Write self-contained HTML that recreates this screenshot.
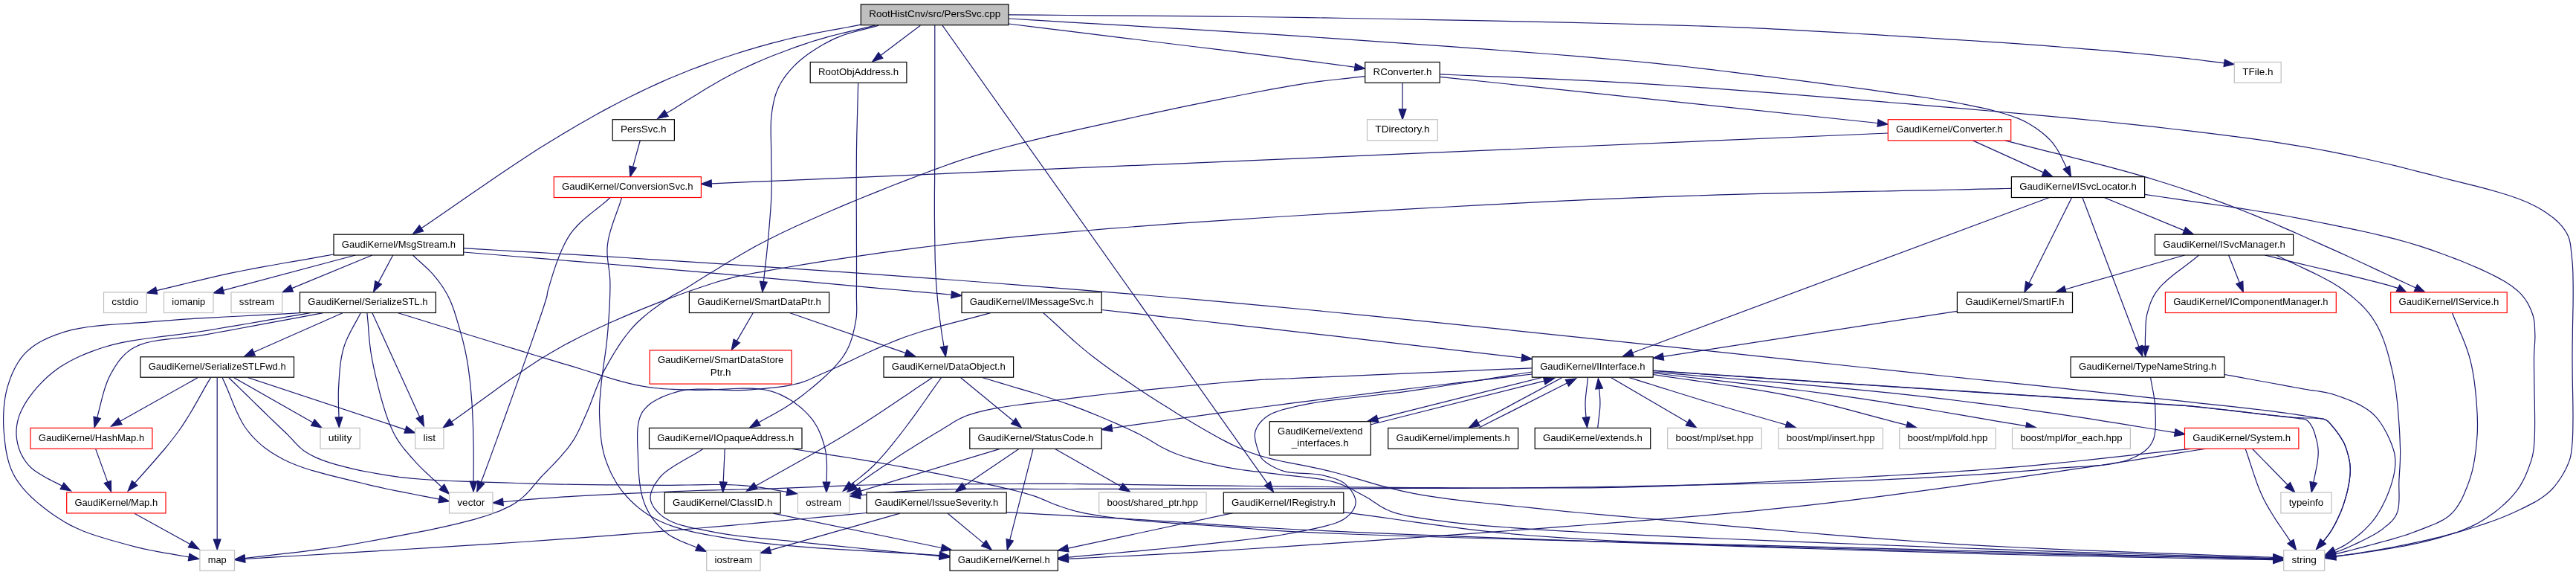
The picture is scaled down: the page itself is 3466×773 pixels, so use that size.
<!DOCTYPE html>
<html><head><meta charset="utf-8"><title>RootHistCnv/src/PersSvc.cpp include graph</title>
<style>html,body{margin:0;padding:0;background:#fff}svg{display:block}text{font-family:"Liberation Sans",sans-serif;font-size:13.45px;fill:#000;text-anchor:middle}.e path{fill:none;stroke:#191970;stroke-width:1.20}.e polygon{fill:#191970;stroke:#191970;stroke-width:1.20}rect{stroke-width:1.20}.t{filter:grayscale(1)}</style></head><body>
<svg width="3466" height="773" viewBox="0 0 3466 773">
<rect x="0" y="0" width="3466" height="773" fill="#fff" stroke="none"/>
<g class="e">
<path d="M1158.3 33.2 L1148.3 35.2 L1138.3 37.0 L1128.2 38.9 L1118.2 40.7 L1108.2 42.5 L1098.1 44.4 L1088.1 46.4 L1078.1 48.5 L1068.2 50.7 L1058.2 53.0 L1048.2 55.6 L1038.3 58.2 L1028.3 60.9 L1018.4 63.7 L1008.4 66.6 L998.5 69.6 L988.7 72.8 L978.8 76.0 L968.9 79.3 L959.1 82.8 L949.1 86.4 L939.3 90.1 L929.4 93.8 L919.6 97.7 L909.8 101.7 L900.0 105.8 L890.1 110.1 L880.2 114.6 L870.2 119.2 L860.0 124.1 L848.5 129.7 L837.0 135.5 L825.6 141.5 L814.0 147.6 L802.3 154.0 L790.5 160.7 L778.5 167.6 L766.3 174.7 L753.7 182.2 L740.9 190.0 L723.8 200.6 L706.2 212.0 L688.0 224.0 L669.4 236.6 L650.5 249.4 L631.4 262.6 L612.3 275.7 L593.1 288.9 L574.2 301.9 L567.0 306.7"/><polygon points="555.5,314.5 564.3,302.7 569.7,310.8"/>
<path d="M1177.1 34.2 L1168.6 36.4 L1160.0 38.4 L1151.5 40.4 L1143.0 42.4 L1134.5 44.4 L1125.9 46.5 L1117.3 48.7 L1108.7 51.1 L1100.0 53.6 L1091.3 56.3 L1081.5 59.6 L1071.8 62.9 L1061.9 66.5 L1052.0 70.2 L1042.0 74.0 L1032.0 78.0 L1022.1 82.2 L1012.1 86.6 L1002.1 91.2 L992.1 96.0 L981.4 101.5 L970.7 107.3 L960.0 113.4 L949.2 119.8 L938.5 126.4 L927.7 133.0 L917.0 139.7 L906.3 146.4 L896.7 152.3"/><polygon points="884.8,159.4 894.2,148.1 899.2,156.4"/>
<path d="M1182.1 34.2 L1176.3 35.9 L1170.4 37.4 L1164.5 38.9 L1158.6 40.4 L1152.7 41.9 L1146.9 43.5 L1141.1 45.1 L1135.4 47.0 L1129.8 49.1 L1124.3 51.4 L1118.9 53.9 L1113.6 56.6 L1108.2 59.5 L1103.0 62.5 L1097.8 65.7 L1092.8 68.9 L1087.9 72.3 L1083.3 75.7 L1078.8 79.2 L1074.7 82.8 L1071.4 85.8 L1068.3 88.9 L1065.2 92.1 L1062.3 95.3 L1059.6 98.6 L1057.0 101.9 L1054.6 105.3 L1052.3 108.7 L1050.2 112.2 L1048.3 115.8 L1046.7 119.2 L1045.3 122.6 L1044.0 126.0 L1042.9 129.5 L1041.9 133.1 L1041.1 136.7 L1040.3 140.4 L1039.6 144.2 L1039.0 148.1 L1038.4 152.1 L1037.8 157.4 L1037.4 162.9 L1037.2 168.6 L1037.2 174.5 L1037.2 180.4 L1037.3 186.5 L1037.5 192.5 L1037.6 198.5 L1037.7 204.3 L1037.7 210.0 L1037.7 215.0 L1037.8 220.0 L1037.9 224.9 L1038.0 229.8 L1038.1 234.6 L1038.1 239.5 L1038.2 244.4 L1038.2 249.3 L1038.1 254.4 L1038.0 259.6 L1037.8 265.5 L1037.5 271.6 L1037.1 277.7 L1036.7 283.9 L1036.2 290.2 L1035.7 296.5 L1035.2 302.9 L1034.6 309.3 L1034.1 315.7 L1033.5 322.2 L1032.8 329.0 L1032.1 336.0 L1031.4 343.0 L1030.6 350.0 L1029.8 357.1 L1029.0 364.2 L1028.2 371.3 L1027.4 378.4 L1027.4 378.7"/><polygon points="1025.8,392.5 1022.5,378.2 1032.2,379.2"/>
<path d="M1238.3 34.2 L1184.9 74.4"/><polygon points="1173.8,82.8 1182.0,70.5 1187.9,78.3"/>
<path d="M1257.8 33.7 L1257.8 50.5 L1257.8 67.6 L1257.8 84.9 L1257.8 102.2 L1257.8 119.5 L1257.8 136.5 L1257.8 153.2 L1257.8 169.4 L1257.8 185.1 L1257.8 200.0 L1257.8 211.1 L1257.7 221.8 L1257.6 232.2 L1257.6 242.4 L1257.5 252.3 L1257.4 262.0 L1257.4 271.6 L1257.4 281.1 L1257.4 290.6 L1257.5 300.0 L1257.6 308.4 L1257.7 316.8 L1257.8 325.0 L1257.9 333.2 L1258.1 341.3 L1258.2 349.3 L1258.5 357.1 L1258.8 364.9 L1259.2 372.5 L1259.6 380.0 L1260.1 386.4 L1260.6 392.8 L1261.2 399.0 L1261.8 405.2 L1262.4 411.3 L1263.1 417.3 L1263.8 423.2 L1264.5 429.0 L1265.3 434.6 L1266.0 440.0 L1266.6 444.3 L1267.2 448.4 L1267.8 452.5 L1268.5 456.4 L1269.1 460.3 L1269.8 464.1 L1270.1 465.8"/><polygon points="1272.4,479.5 1265.3,466.6 1274.9,465.0"/>
<path d="M1268.0 34.2 L1705.5 650.2"/><polygon points="1713.5,661.5 1701.5,653.0 1709.4,647.4"/>
<path d="M1357.0 32.0 L1396.4 36.9 L1437.6 41.9 L1479.9 47.1 L1522.4 52.3 L1564.3 57.5 L1605.1 62.5 L1643.7 67.2 L1679.6 71.7 L1712.0 75.7 L1740.0 79.3 L1752.3 80.9 L1763.4 82.3 L1773.7 83.7 L1783.3 85.0 L1792.4 86.2 L1801.1 87.4 L1809.7 88.5 L1818.4 89.7 L1822.9 90.3"/><polygon points="1836.7,92.2 1822.3,95.1 1823.6,85.5"/>
<path d="M1357.0 25.0 L1397.2 27.4 L1437.3 29.8 L1477.3 32.1 L1517.4 34.4 L1557.4 36.8 L1597.6 39.1 L1637.9 41.6 L1678.3 44.1 L1719.1 46.7 L1760.1 49.4 L1804.3 52.4 L1850.2 55.6 L1897.3 58.8 L1944.8 62.2 L1992.1 65.6 L2038.4 69.1 L2083.0 72.5 L2125.3 75.9 L2164.5 79.3 L2200.0 82.5 L2219.8 84.4 L2238.2 86.3 L2255.4 88.1 L2271.9 90.0 L2287.6 91.8 L2303.0 93.6 L2318.2 95.5 L2333.5 97.4 L2349.1 99.3 L2365.3 101.3 L2382.0 103.4 L2399.0 105.5 L2416.2 107.6 L2433.4 109.8 L2450.5 112.1 L2467.4 114.3 L2484.0 116.5 L2500.2 118.6 L2515.7 120.7 L2530.5 122.8 L2541.5 124.3 L2552.3 125.8 L2562.8 127.3 L2573.0 128.7 L2582.9 130.1 L2592.7 131.5 L2602.2 133.0 L2611.5 134.5 L2620.7 136.0 L2629.7 137.7 L2636.9 139.0 L2644.1 140.4 L2651.3 141.8 L2658.2 143.3 L2665.1 144.7 L2671.7 146.2 L2678.1 147.7 L2684.3 149.3 L2690.2 150.9 L2695.8 152.5 L2699.6 153.7 L2703.2 154.9 L2706.7 156.0 L2710.0 157.2 L2713.2 158.4 L2716.4 159.6 L2719.5 161.0 L2722.6 162.4 L2725.7 164.0 L2728.8 165.8 L2732.3 167.8 L2735.8 170.0 L2739.3 172.3 L2742.7 174.8 L2746.2 177.3 L2749.5 180.0 L2752.8 182.8 L2755.9 185.8 L2759.0 188.9 L2761.9 192.2 L2764.8 196.1 L2767.6 200.2 L2770.2 204.6 L2772.7 209.2 L2775.0 213.9 L2777.3 218.7 L2779.6 223.6 L2780.4 225.4"/><polygon points="2786.6,237.8 2776.1,227.5 2784.8,223.2"/>
<path d="M1357.0 19.8 L1397.0 20.2 L1436.6 20.5 L1476.0 20.8 L1515.4 21.1 L1554.9 21.4 L1594.6 21.7 L1634.8 22.1 L1675.7 22.5 L1717.4 23.0 L1760.1 23.7 L1812.5 24.5 L1868.7 25.5 L1927.4 26.6 L1987.3 27.7 L2047.1 28.9 L2105.6 30.2 L2161.4 31.5 L2213.3 32.8 L2259.9 34.1 L2300.0 35.4 L2317.7 36.0 L2333.8 36.6 L2348.6 37.2 L2362.5 37.8 L2375.6 38.4 L2388.2 39.1 L2400.7 39.7 L2413.3 40.4 L2426.2 41.1 L2439.7 41.8 L2453.7 42.6 L2467.7 43.3 L2481.7 44.2 L2495.6 45.0 L2509.6 45.8 L2523.6 46.7 L2537.6 47.6 L2551.5 48.4 L2565.5 49.3 L2579.5 50.2 L2593.5 51.0 L2607.4 51.9 L2621.4 52.8 L2635.4 53.6 L2649.4 54.5 L2663.3 55.4 L2677.3 56.3 L2691.3 57.2 L2705.3 58.1 L2719.2 59.1 L2733.4 60.2 L2747.8 61.2 L2762.3 62.3 L2776.8 63.5 L2791.3 64.6 L2805.6 65.8 L2819.7 66.9 L2833.3 68.1 L2846.4 69.2 L2859.0 70.3 L2868.3 71.2 L2877.3 72.0 L2886.1 72.8 L2894.6 73.6 L2903.0 74.5 L2911.1 75.3 L2919.2 76.1 L2927.1 77.0 L2935.0 77.8 L2942.8 78.7 L2949.5 79.5 L2956.1 80.2 L2962.6 81.0 L2968.9 81.8 L2975.2 82.6 L2981.5 83.4 L2987.7 84.2 L2992.7 84.8"/><polygon points="3006.5,86.5 2992.1,89.6 2993.3,80.0"/>
<path d="M1154.7 111.5 L1154.4 121.2 L1154.2 130.7 L1153.9 140.1 L1153.7 149.5 L1153.4 158.9 L1153.2 168.5 L1152.9 178.3 L1152.7 188.4 L1152.5 199.0 L1152.4 210.0 L1152.3 226.4 L1152.2 244.6 L1152.2 264.0 L1152.3 284.1 L1152.4 304.5 L1152.4 324.4 L1152.5 343.5 L1152.5 361.1 L1152.5 376.8 L1152.4 390.0 L1152.4 395.4 L1152.4 400.3 L1152.5 404.8 L1152.6 409.0 L1152.7 412.9 L1152.7 416.7 L1152.6 420.4 L1152.4 424.2 L1152.0 428.1 L1151.3 432.2 L1150.5 436.7 L1149.6 441.2 L1148.5 445.7 L1147.4 450.3 L1146.1 454.8 L1144.5 459.4 L1142.8 463.9 L1140.7 468.4 L1138.4 472.9 L1135.7 477.4 L1131.4 483.5 L1126.3 489.6 L1120.6 495.8 L1114.4 502.1 L1107.7 508.2 L1100.9 514.3 L1093.8 520.2 L1086.8 525.9 L1079.8 531.4 L1073.0 536.5 L1066.8 541.0 L1060.5 545.2 L1054.2 549.2 L1047.7 553.0 L1041.2 556.7 L1034.7 560.3 L1028.2 563.8 L1021.7 567.4 L1020.8 567.9"/><polygon points="1008.7,574.8 1018.4,563.7 1023.2,572.1"/>
<path d="M1887.1 111.3 L1887.1 146.8"/><polygon points="1887.1,160.7 1882.2,146.8 1892.0,146.8"/>
<path d="M1937.2 103.3 L2526.5 165.5"/><polygon points="2540.3,167.0 2526.0,170.3 2527.0,160.7"/>
<path d="M1937.2 99.8 L1963.4 101.0 L1989.3 102.1 L2015.1 103.1 L2040.9 104.2 L2066.7 105.3 L2092.7 106.4 L2119.0 107.6 L2145.5 108.9 L2172.5 110.3 L2200.0 111.9 L2231.4 113.9 L2263.4 116.0 L2295.8 118.2 L2328.6 120.6 L2361.8 123.1 L2395.2 125.7 L2428.8 128.3 L2462.6 131.1 L2496.5 133.9 L2530.5 136.7 L2567.1 139.7 L2604.7 142.9 L2643.0 146.1 L2681.6 149.5 L2720.2 152.9 L2758.4 156.4 L2795.9 159.9 L2832.2 163.5 L2867.0 167.1 L2900.0 170.7 L2924.0 173.5 L2947.3 176.2 L2970.0 178.9 L2992.0 181.6 L3013.4 184.4 L3034.4 187.2 L3055.0 190.2 L3075.3 193.3 L3095.3 196.6 L3115.1 200.0 L3131.9 203.1 L3148.3 206.3 L3164.3 209.6 L3180.1 213.0 L3195.7 216.5 L3211.1 220.0 L3226.3 223.7 L3241.4 227.5 L3256.5 231.3 L3271.7 235.2 L3286.3 239.0 L3301.5 242.8 L3316.9 246.6 L3332.2 250.4 L3347.3 254.4 L3361.9 258.5 L3375.8 262.8 L3388.7 267.3 L3400.5 272.0 L3410.8 277.0 L3416.4 280.1 L3421.8 283.3 L3426.8 286.6 L3431.5 289.9 L3435.9 293.3 L3439.9 296.8 L3443.6 300.4 L3447.0 304.1 L3449.9 307.9 L3452.5 311.7 L3454.3 314.9 L3455.7 317.9 L3456.8 321.0 L3457.6 324.1 L3458.3 327.3 L3458.8 330.6 L3459.2 334.2 L3459.6 338.0 L3460.0 342.1 L3460.5 346.5 L3461.4 356.4 L3461.9 367.7 L3462.1 380.4 L3462.2 394.0 L3462.1 408.2 L3461.8 422.9 L3461.5 437.7 L3461.3 452.4 L3461.1 466.5 L3461.0 480.0 L3461.1 492.7 L3461.2 505.9 L3461.4 519.4 L3461.7 532.9 L3461.9 546.2 L3462.0 558.9 L3461.9 571.0 L3461.7 582.0 L3461.3 591.8 L3460.6 600.0 L3460.3 603.2 L3459.9 606.0 L3459.6 608.5 L3459.2 610.9 L3458.8 613.1 L3458.3 615.2 L3457.7 617.3 L3457.0 619.4 L3456.2 621.6 L3455.2 624.1 L3453.7 627.6 L3451.9 631.2 L3449.9 634.9 L3447.7 638.7 L3445.4 642.5 L3442.8 646.3 L3440.1 650.0 L3437.3 653.6 L3434.3 657.0 L3431.1 660.2 L3427.5 663.5 L3423.6 666.5 L3419.5 669.5 L3415.2 672.2 L3410.7 674.9 L3406.0 677.4 L3401.2 679.9 L3396.2 682.4 L3391.2 684.8 L3386.0 687.3 L3379.4 690.3 L3372.4 693.3 L3365.2 696.2 L3357.8 699.0 L3350.2 701.7 L3342.5 704.4 L3334.6 707.0 L3326.6 709.5 L3318.7 712.0 L3310.7 714.4 L3302.1 716.9 L3293.3 719.2 L3284.4 721.5 L3275.4 723.7 L3266.2 725.8 L3257.1 727.9 L3247.9 729.8 L3238.7 731.8 L3229.5 733.6 L3220.4 735.5 L3211.3 737.2 L3202.1 738.9 L3193.0 740.4 L3183.8 741.9 L3174.6 743.4 L3165.4 744.8 L3156.2 746.2 L3147.0 747.6 L3142.3 748.3"/><polygon points="3128.6,750.5 3141.6,743.5 3143.1,753.1"/>
<path d="M861.4 188.5 L851.5 224.3"/><polygon points="847.8,237.7 846.8,223.0 856.2,225.6"/>
<path d="M2540.3 179.0 L957.3 246.8"/><polygon points="943.4,247.4 957.1,241.9 957.5,251.7"/>
<path d="M2654.3 188.9 L2749.4 231.9"/><polygon points="2762.1,237.7 2747.4,236.4 2751.4,227.5"/>
<path d="M2697.7 188.9 L2717.1 193.8 L2736.7 198.8 L2756.5 203.8 L2776.4 208.7 L2796.2 213.7 L2815.7 218.6 L2834.9 223.6 L2853.6 228.6 L2871.7 233.6 L2889.0 238.7 L2902.4 242.8 L2915.3 246.8 L2927.8 250.8 L2939.9 254.8 L2951.8 258.9 L2963.6 263.0 L2975.3 267.2 L2987.0 271.4 L2998.8 275.9 L3010.8 280.4 L3023.0 285.2 L3035.2 290.1 L3047.3 295.2 L3059.4 300.3 L3071.5 305.6 L3083.7 310.9 L3095.8 316.2 L3108.0 321.7 L3120.2 327.1 L3132.5 332.6 L3145.4 338.4 L3158.4 344.3 L3171.4 350.2 L3184.4 356.3 L3197.5 362.4 L3210.6 368.5 L3223.7 374.6 L3236.8 380.7 L3249.9 386.8 L3250.3 387.0"/><polygon points="3263.0,392.9 3248.3,391.4 3252.4,382.6"/>
<path d="M820.9 265.8 L815.4 270.7 L809.7 275.4 L803.9 280.0 L798.1 284.6 L792.3 289.2 L786.7 293.9 L781.3 298.8 L776.1 304.0 L771.3 309.4 L767.0 315.2 L762.7 322.1 L758.7 329.8 L754.9 338.1 L751.4 346.7 L748.2 355.4 L745.3 363.9 L742.8 371.9 L740.6 379.1 L738.8 385.2 L737.4 390.0 L737.0 391.3 L736.8 392.4 L736.6 393.2 L736.5 394.0 L736.4 394.7 L736.3 395.5 L736.2 396.3 L736.0 397.3 L735.8 398.5 L735.4 400.0 L731.3 413.2 L724.0 434.7 L714.4 462.4 L703.2 494.1 L691.2 527.9 L679.1 561.5 L667.7 592.9 L657.8 620.1 L650.0 641.0 L647.2 648.2"/><polygon points="641.7,661.0 642.8,646.3 651.7,650.2"/>
<path d="M836.5 265.8 L834.5 272.2 L832.3 278.6 L830.0 285.0 L827.7 291.4 L825.4 297.8 L823.3 304.2 L821.3 310.6 L819.6 316.8 L818.3 323.0 L817.4 329.1 L817.0 334.4 L817.0 339.5 L817.2 344.5 L817.7 349.4 L818.3 354.3 L819.0 359.3 L819.7 364.3 L820.3 369.4 L820.7 374.6 L820.9 380.0 L820.9 386.5 L820.8 393.2 L820.6 400.1 L820.3 407.1 L820.0 414.1 L819.5 421.2 L819.1 428.4 L818.5 435.5 L818.0 442.6 L817.4 449.6 L816.7 456.6 L815.9 463.8 L815.0 471.0 L814.0 478.3 L812.9 485.5 L811.9 492.6 L811.0 499.6 L810.1 506.4 L809.3 512.9 L808.7 519.1 L808.3 523.6 L807.9 527.9 L807.6 532.0 L807.2 536.0 L806.9 539.8 L806.7 543.7 L806.6 547.6 L806.5 551.6 L806.5 555.7 L806.7 560.0 L806.9 565.2 L807.2 570.7 L807.5 576.3 L808.0 582.0 L808.5 587.7 L809.2 593.4 L810.1 599.1 L811.2 604.7 L812.5 610.2 L814.1 615.6 L815.8 620.7 L817.8 625.8 L819.9 630.9 L822.2 635.9 L824.7 640.8 L827.4 645.7 L830.2 650.4 L833.3 655.0 L836.5 659.4 L840.0 663.7 L843.8 668.0 L847.8 672.3 L852.0 676.3 L856.4 680.3 L861.0 684.1 L865.9 687.7 L871.0 691.2 L876.4 694.5 L882.1 697.7 L888.1 700.7 L896.9 704.5 L906.2 707.9 L916.0 710.9 L926.3 713.6 L937.2 716.1 L948.6 718.4 L960.4 720.5 L972.9 722.6 L985.8 724.6 L999.3 726.7 L1022.0 729.7 L1046.8 732.4 L1073.5 734.7 L1101.5 736.8 L1130.6 738.6 L1160.4 740.4 L1190.3 742.1 L1220.2 743.8 L1249.6 745.6 L1264.1 746.6"/><polygon points="1278.0,747.6 1263.8,751.5 1264.5,741.8"/>
<path d="M2706.4 253.3 L2699.0 253.5 L2692.1 253.6 L2685.4 253.8 L2678.7 253.9 L2672.0 254.1 L2664.9 254.2 L2657.3 254.4 L2649.1 254.6 L2640.1 254.8 L2630.0 255.0 L2602.7 255.6 L2570.2 256.2 L2533.3 257.0 L2493.0 257.7 L2450.2 258.6 L2405.5 259.6 L2360.1 260.7 L2314.6 261.9 L2269.9 263.3 L2227.0 264.8 L2181.2 266.6 L2134.1 268.7 L2086.1 270.9 L2037.7 273.4 L1989.1 275.9 L1941.0 278.5 L1893.5 281.1 L1847.3 283.8 L1802.6 286.4 L1760.0 289.0 L1727.2 291.0 L1695.1 293.0 L1663.7 295.1 L1633.0 297.1 L1603.0 299.1 L1573.5 301.2 L1544.6 303.3 L1516.3 305.5 L1488.4 307.7 L1461.0 310.0 L1438.6 311.9 L1416.9 313.8 L1395.7 315.8 L1374.9 317.7 L1354.4 319.7 L1334.1 321.7 L1313.9 323.9 L1293.6 326.1 L1273.2 328.5 L1252.6 331.0 L1231.3 333.7 L1209.3 336.6 L1187.0 339.7 L1164.5 342.8 L1142.3 346.1 L1120.5 349.3 L1099.5 352.6 L1079.6 355.8 L1061.0 359.0 L1044.0 362.0 L1034.4 363.7 L1025.6 365.3 L1017.5 366.7 L1009.9 368.0 L1002.5 369.5 L995.2 371.0 L987.6 372.7 L979.7 374.8 L971.1 377.2 L961.7 380.0 L944.9 385.5 L926.3 391.8 L906.5 399.0 L885.7 406.9 L864.3 415.4 L842.6 424.4 L821.0 433.8 L799.8 443.5 L779.3 453.5 L760.0 463.5 L742.5 473.4 L725.4 483.8 L708.8 494.7 L692.4 505.9 L676.3 517.3 L660.3 528.9 L644.3 540.6 L628.4 552.2 L612.3 563.7 L607.4 567.1"/><polygon points="596.0,575.0 604.7,563.1 610.2,571.1"/>
<path d="M2756.9 265.8 L2196.5 474.2"/><polygon points="2183.5,479.0 2194.8,469.6 2198.2,478.7"/>
<path d="M2787.5 265.8 L2730.1 380.4"/><polygon points="2723.8,392.9 2725.7,378.3 2734.4,382.6"/>
<path d="M2802.0 265.8 L2877.9 466.0"/><polygon points="2882.8,479.0 2873.3,467.7 2882.4,464.3"/>
<path d="M2831.7 265.8 L2938.8 309.9"/><polygon points="2951.7,315.2 2936.9,314.4 2940.6,305.4"/>
<path d="M2885.6 261.3 L2906.9 264.5 L2928.4 267.7 L2949.9 270.8 L2971.5 273.9 L2993.1 277.0 L3014.5 280.2 L3035.7 283.5 L3056.8 286.9 L3077.4 290.5 L3097.7 294.3 L3116.1 298.0 L3134.4 301.6 L3152.6 305.3 L3170.6 309.1 L3188.4 313.0 L3205.9 317.1 L3223.1 321.4 L3239.8 326.0 L3256.0 330.9 L3271.7 336.1 L3284.7 340.8 L3298.0 345.7 L3311.3 350.8 L3324.4 356.2 L3337.0 361.6 L3349.0 367.2 L3360.2 372.9 L3370.3 378.6 L3379.1 384.3 L3386.4 390.0 L3389.8 393.1 L3392.8 396.2 L3395.4 399.4 L3397.8 402.5 L3399.9 405.7 L3401.7 408.9 L3403.3 412.1 L3404.8 415.3 L3406.1 418.5 L3407.3 421.7 L3408.2 424.5 L3408.9 427.2 L3409.5 430.0 L3409.9 432.8 L3410.2 435.5 L3410.4 438.3 L3410.5 441.1 L3410.6 443.9 L3410.7 446.7 L3410.8 449.6 L3410.9 452.5 L3410.8 455.2 L3410.7 458.0 L3410.6 460.7 L3410.4 463.4 L3410.2 466.3 L3410.0 469.3 L3409.8 472.6 L3409.6 476.1 L3409.5 480.0 L3409.5 489.2 L3409.6 500.4 L3409.8 513.1 L3410.0 526.7 L3410.3 540.8 L3410.5 554.8 L3410.6 568.3 L3410.5 580.6 L3410.1 591.4 L3409.5 600.0 L3409.1 603.2 L3408.7 606.0 L3408.3 608.5 L3407.9 610.8 L3407.4 613.0 L3406.9 615.1 L3406.3 617.2 L3405.7 619.3 L3404.9 621.6 L3404.0 624.1 L3402.8 627.5 L3401.5 631.0 L3400.1 634.6 L3398.5 638.3 L3396.9 642.0 L3395.0 645.7 L3393.0 649.4 L3390.9 653.1 L3388.5 656.7 L3386.0 660.2 L3382.5 664.4 L3378.8 668.6 L3374.7 672.8 L3370.3 677.0 L3365.8 681.1 L3361.0 685.1 L3356.1 688.9 L3351.0 692.6 L3346.0 696.1 L3340.8 699.3 L3335.4 702.5 L3329.9 705.4 L3324.2 708.1 L3318.4 710.6 L3312.4 713.0 L3306.4 715.2 L3300.1 717.3 L3293.8 719.4 L3287.3 721.4 L3280.6 723.4 L3272.3 725.7 L3263.6 727.9 L3254.5 730.0 L3245.1 731.9 L3235.7 733.8 L3226.2 735.5 L3216.8 737.1 L3207.6 738.7 L3198.8 740.1 L3190.3 741.5 L3183.7 742.5 L3177.2 743.5 L3171.0 744.3 L3164.8 745.1 L3158.7 745.8 L3152.7 746.5 L3146.8 747.2 L3142.4 747.7"/><polygon points="3128.6,749.3 3141.8,742.8 3143.0,752.5"/>
<path d="M449.0 342.0 L435.4 344.4 L421.6 346.9 L407.8 349.3 L394.1 351.6 L380.3 354.0 L366.6 356.5 L353.0 358.9 L339.5 361.4 L326.2 364.0 L313.0 366.7 L301.1 369.2 L289.2 371.9 L277.6 374.6 L266.0 377.3 L254.5 380.0 L243.1 382.8 L231.6 385.6 L220.2 388.4 L210.7 390.7"/><polygon points="197.2,393.9 209.6,386.0 211.8,395.4"/>
<path d="M478.3 343.0 L300.4 390.3"/><polygon points="287.0,393.9 299.1,385.6 301.6,395.0"/>
<path d="M500.9 343.0 L392.7 387.6"/><polygon points="379.8,392.9 390.8,383.1 394.5,392.1"/>
<path d="M528.7 343.0 L509.1 379.9"/><polygon points="502.6,392.2 504.8,377.6 513.4,382.2"/>
<path d="M555.5 343.0 L558.4 345.8 L561.4 348.6 L564.4 351.3 L567.4 354.0 L570.4 356.7 L573.4 359.5 L576.3 362.3 L579.1 365.1 L581.8 367.9 L584.3 370.9 L586.6 373.6 L588.8 376.4 L590.9 379.2 L593.0 382.0 L595.0 384.8 L596.9 387.7 L598.7 390.7 L600.5 393.7 L602.2 396.8 L603.8 400.0 L605.5 403.6 L607.1 407.3 L608.6 411.0 L610.0 414.9 L611.4 418.8 L612.6 422.8 L613.9 426.8 L615.1 430.9 L616.3 434.9 L617.5 439.0 L618.7 443.2 L619.9 447.5 L621.1 451.7 L622.3 456.1 L623.4 460.4 L624.4 464.8 L625.5 469.2 L626.4 473.7 L627.3 478.2 L628.2 482.8 L629.1 487.9 L629.9 493.1 L630.6 498.4 L631.3 503.7 L632.0 509.1 L632.6 514.5 L633.1 520.0 L633.6 525.4 L634.1 530.9 L634.5 536.4 L635.0 542.1 L635.3 547.9 L635.7 553.6 L635.9 559.4 L636.2 565.3 L636.4 571.1 L636.6 577.0 L636.7 582.9 L636.8 588.9 L637.0 594.9 L637.1 601.3 L637.2 607.8 L637.2 614.4 L637.2 621.0 L637.2 627.7 L637.1 634.4 L637.1 641.0 L637.0 647.1"/><polygon points="637.0,661.0 632.2,647.1 641.9,647.1"/>
<path d="M623.7 339.0 L648.2 341.0 L672.3 343.0 L696.3 345.0 L720.3 346.9 L744.4 348.9 L768.6 350.9 L793.2 352.9 L818.2 355.0 L843.8 357.2 L870.0 359.4 L902.9 362.3 L938.4 365.4 L975.5 368.7 L1013.5 372.1 L1051.5 375.6 L1088.6 378.9 L1124.0 382.1 L1156.7 385.1 L1186.0 387.8 L1211.0 390.0 L1221.6 390.9 L1231.2 391.8 L1240.0 392.6 L1248.3 393.3 L1256.0 394.0 L1263.5 394.7 L1270.9 395.3 L1278.3 396.0 L1280.2 396.2"/><polygon points="1294.0,397.4 1279.7,401.0 1280.6,391.3"/>
<path d="M623.7 333.7 L648.0 335.1 L671.7 336.5 L695.2 337.9 L718.6 339.2 L742.1 340.5 L766.0 341.9 L790.5 343.4 L815.9 344.9 L842.3 346.5 L870.0 348.3 L910.3 350.9 L953.1 353.7 L998.0 356.6 L1044.5 359.7 L1092.1 362.9 L1140.3 366.2 L1188.7 369.6 L1236.7 373.1 L1284.0 376.5 L1330.0 380.0 L1372.9 383.3 L1414.6 386.6 L1455.4 389.8 L1495.9 393.1 L1536.6 396.5 L1577.9 400.0 L1620.5 403.7 L1664.7 407.7 L1711.0 411.9 L1760.0 416.5 L1838.7 424.1 L1928.7 433.2 L2026.5 443.2 L2128.4 453.8 L2231.1 464.6 L2330.8 475.2 L2424.1 485.1 L2507.5 494.0 L2577.3 501.4 L2630.1 507.0 L2643.2 508.3 L2654.3 509.5 L2664.0 510.5 L2672.6 511.3 L2680.5 512.2 L2688.1 512.9 L2695.9 513.7 L2704.2 514.6 L2713.5 515.6 L2724.1 516.7 L2743.1 518.7 L2764.3 520.9 L2787.2 523.4 L2811.2 525.9 L2835.9 528.6 L2860.7 531.2 L2885.0 533.8 L2908.3 536.3 L2930.2 538.7 L2950.0 540.9 L2962.9 542.3 L2975.4 543.6 L2987.5 544.9 L2999.2 546.2 L3010.5 547.4 L3021.4 548.6 L3032.0 549.8 L3042.1 551.0 L3051.9 552.2 L3061.3 553.4 L3067.9 554.3 L3074.3 555.2 L3080.7 556.0 L3086.9 556.9 L3092.9 557.8 L3098.5 558.7 L3103.8 559.5 L3108.7 560.3 L3113.1 561.1 L3117.0 561.7 L3118.6 562.0 L3120.1 562.3 L3121.5 562.4 L3122.8 562.6 L3124.0 562.8 L3125.2 563.0 L3126.3 563.2 L3127.4 563.6 L3128.4 564.0 L3129.5 564.5 L3130.6 565.2 L3131.7 566.0 L3132.7 566.8 L3133.7 567.8 L3134.6 568.8 L3135.5 569.8 L3136.5 570.9 L3137.4 572.0 L3138.3 573.1 L3139.3 574.3 L3140.4 575.6 L3141.6 577.1 L3142.8 578.6 L3144.0 580.2 L3145.1 581.8 L3146.3 583.4 L3147.4 585.0 L3148.5 586.6 L3149.5 588.1 L3150.4 589.6 L3151.0 590.7 L3151.7 591.7 L3152.2 592.6 L3152.8 593.6 L3153.3 594.5 L3153.8 595.5 L3154.3 596.5 L3154.7 597.5 L3155.2 598.7 L3155.7 600.0 L3156.5 602.3 L3157.4 604.9 L3158.2 607.6 L3159.1 610.6 L3159.9 613.6 L3160.6 616.8 L3161.3 620.1 L3161.8 623.4 L3162.1 626.8 L3162.3 630.1 L3162.3 634.3 L3162.0 638.6 L3161.5 643.1 L3160.9 647.7 L3160.0 652.4 L3159.1 657.1 L3158.0 661.8 L3156.8 666.4 L3155.5 670.9 L3154.2 675.3 L3152.8 679.4 L3151.3 683.6 L3149.7 687.7 L3147.9 691.8 L3146.1 695.8 L3144.2 699.8 L3142.3 703.6 L3140.2 707.4 L3138.2 711.0 L3136.1 714.4 L3134.3 717.1 L3132.5 719.7 L3130.5 722.2 L3128.6 724.6 L3126.6 727.0 L3125.7 728.0"/><polygon points="3116.6,738.5 3122.0,724.8 3129.3,731.2"/>
<path d="M2939.5 343.0 L2778.9 389.0"/><polygon points="2765.6,392.9 2777.6,384.4 2780.3,393.7"/>
<path d="M2958.6 343.0 L2952.9 347.7 L2946.8 352.5 L2940.6 357.2 L2934.3 361.9 L2928.2 366.6 L2922.2 371.3 L2916.6 376.0 L2911.4 380.7 L2906.8 385.3 L2903.0 390.0 L2900.7 393.2 L2898.7 396.4 L2896.9 399.6 L2895.4 402.8 L2894.0 406.0 L2892.8 409.1 L2891.7 412.3 L2890.8 415.5 L2889.9 418.6 L2889.0 421.7 L2888.4 424.5 L2887.9 427.3 L2887.5 430.1 L2887.3 432.9 L2887.1 435.6 L2887.0 438.4 L2886.9 441.2 L2886.8 444.0 L2886.7 446.7 L2886.6 449.6 L2886.5 452.5 L2886.4 455.4 L2886.4 458.4 L2886.4 461.3 L2886.4 464.3 L2886.5 465.2"/><polygon points="2886.6,479.1 2881.6,465.3 2891.3,465.2"/>
<path d="M2998.6 343.0 L3013.3 380.0"/><polygon points="3018.4,392.9 3008.8,381.8 3017.8,378.2"/>
<path d="M3063.0 343.0 L3072.2 347.7 L3081.7 352.3 L3091.4 356.8 L3101.1 361.4 L3110.7 365.9 L3120.1 370.5 L3129.2 375.2 L3137.9 380.0 L3146.0 384.9 L3153.4 390.0 L3158.6 393.9 L3163.6 397.8 L3168.2 401.6 L3172.7 405.6 L3176.9 409.5 L3180.9 413.7 L3184.7 417.9 L3188.4 422.4 L3191.8 427.2 L3195.1 432.2 L3198.6 438.1 L3201.7 444.3 L3204.6 450.8 L3207.3 457.6 L3209.7 464.6 L3211.9 471.7 L3214.0 479.1 L3215.9 486.5 L3217.7 494.1 L3219.5 501.7 L3221.3 511.0 L3223.0 520.8 L3224.4 531.0 L3225.6 541.5 L3226.6 552.0 L3227.4 562.5 L3228.1 572.7 L3228.7 582.4 L3229.1 591.6 L3229.4 600.0 L3229.6 605.2 L3229.6 610.1 L3229.5 614.8 L3229.4 619.3 L3229.2 623.7 L3229.0 627.9 L3228.7 632.2 L3228.4 636.4 L3228.2 640.7 L3227.9 645.2 L3227.8 649.8 L3227.8 654.5 L3227.9 659.4 L3228.0 664.2 L3228.0 669.0 L3227.9 673.7 L3227.6 678.3 L3227.1 682.6 L3226.2 686.6 L3224.9 690.3 L3223.6 693.0 L3222.2 695.4 L3220.6 697.7 L3218.8 699.8 L3216.9 701.8 L3214.8 703.8 L3212.6 705.7 L3210.3 707.5 L3207.9 709.4 L3205.4 711.4 L3201.7 714.0 L3197.6 716.7 L3193.2 719.3 L3188.5 721.8 L3183.7 724.3 L3178.8 726.8 L3173.9 729.1 L3169.1 731.4 L3164.5 733.5 L3160.2 735.5 L3156.9 736.9 L3153.6 738.3 L3150.4 739.6 L3147.2 740.8 L3144.1 741.9 L3141.7 742.8"/><polygon points="3128.6,747.5 3140.0,738.2 3143.3,747.3"/>
<path d="M3047.3 343.0 L3067.1 347.9 L3088.8 353.1 L3111.5 358.5 L3134.5 363.9 L3157.0 369.2 L3178.1 374.3 L3197.1 379.1 L3213.2 383.4 L3225.6 387.1 L3226.5 387.4"/><polygon points="3238.6,393.9 3224.2,391.7 3228.8,383.1"/>
<path d="M403.5 420.7 L383.8 421.8 L363.8 422.9 L343.6 423.9 L323.4 425.0 L303.2 426.0 L283.3 427.1 L263.8 428.2 L244.7 429.4 L226.3 430.8 L208.7 432.2 L195.1 433.3 L181.6 434.2 L168.3 435.1 L155.3 436.0 L142.6 436.9 L130.3 438.1 L118.5 439.5 L107.3 441.3 L96.8 443.4 L87.0 446.1 L80.5 448.2 L74.4 450.4 L68.5 452.7 L62.9 455.1 L57.5 457.7 L52.4 460.5 L47.6 463.5 L43.1 466.7 L38.8 470.2 L34.8 473.9 L31.3 477.6 L28.1 481.6 L25.2 485.8 L22.5 490.2 L20.0 494.7 L17.7 499.4 L15.6 504.2 L13.7 509.1 L12.0 514.1 L10.4 519.1 L8.9 524.7 L7.6 530.5 L6.6 536.5 L5.8 542.6 L5.2 548.8 L4.8 555.1 L4.6 561.4 L4.6 567.6 L4.8 573.9 L5.2 580.0 L5.8 586.3 L6.4 592.7 L7.2 599.1 L8.1 605.6 L9.4 612.0 L10.9 618.3 L12.7 624.6 L15.0 630.8 L17.7 636.8 L20.9 642.6 L25.3 649.2 L30.5 655.8 L36.3 662.3 L42.7 668.7 L49.5 674.9 L56.7 680.8 L64.1 686.5 L71.7 691.9 L79.4 697.0 L87.0 701.7 L94.8 706.1 L103.0 710.0 L111.4 713.7 L120.1 717.0 L128.9 720.0 L137.8 722.8 L146.8 725.5 L155.9 728.0 L164.9 730.5 L173.9 733.0 L183.1 735.4 L192.3 737.6 L201.7 739.5 L211.1 741.3 L220.5 743.1 L230.0 744.7 L239.5 746.3 L249.0 748.0 L254.2 748.9"/><polygon points="267.8,751.4 253.3,753.7 255.0,744.1"/>
<path d="M417.4 420.7 L403.5 423.1 L389.6 425.4 L375.7 427.8 L361.7 430.2 L347.8 432.6 L333.9 435.0 L320.0 437.3 L306.1 439.7 L292.2 442.0 L278.3 444.3 L264.1 446.5 L249.6 448.5 L234.9 450.3 L220.1 452.1 L205.4 454.0 L191.0 456.0 L177.0 458.2 L163.6 460.7 L150.9 463.6 L139.1 467.0 L130.9 469.7 L123.0 472.6 L115.3 475.6 L108.0 478.7 L101.0 482.0 L94.2 485.5 L87.7 489.2 L81.4 493.1 L75.4 497.3 L69.6 501.7 L64.3 506.2 L59.2 511.0 L54.2 516.1 L49.4 521.4 L44.8 526.8 L40.6 532.4 L36.7 537.9 L33.3 543.4 L30.3 548.8 L27.8 553.9 L26.3 557.6 L25.0 561.4 L24.0 565.1 L23.2 568.8 L22.6 572.4 L22.2 576.1 L22.0 579.7 L22.0 583.3 L22.2 586.8 L22.6 590.4 L23.2 594.0 L24.0 597.6 L25.0 601.2 L26.2 604.8 L27.6 608.4 L29.3 611.9 L31.2 615.4 L33.3 618.7 L35.6 622.0 L38.3 625.2 L42.3 629.2 L47.1 633.0 L52.4 636.6 L58.2 640.0 L64.3 643.4 L70.7 646.7 L77.1 649.9 L83.5 653.2"/><polygon points="95.7,660.0 81.1,657.5 85.9,649.0"/>
<path d="M434.8 420.7 L419.0 423.6 L402.9 426.6 L386.7 429.6 L370.4 432.6 L354.2 435.6 L338.2 438.6 L322.5 441.5 L307.2 444.3 L292.4 447.0 L278.3 449.6 L267.3 451.3 L256.3 452.7 L245.4 453.9 L234.7 455.0 L224.3 456.1 L214.3 457.4 L204.8 459.0 L196.0 461.0 L188.0 463.6 L180.9 467.0 L176.5 469.6 L172.6 472.4 L169.0 475.4 L165.7 478.6 L162.7 482.0 L159.8 485.5 L157.2 489.3 L154.6 493.2 L152.1 497.4 L149.6 501.7 L146.5 507.7 L143.8 514.3 L141.3 521.3 L139.1 528.6 L137.0 536.3 L135.1 544.0 L133.1 551.9 L131.2 559.7 L130.7 561.4"/><polygon points="127.0,574.8 126.0,560.1 135.4,562.7"/>
<path d="M460.9 420.7 L341.4 473.5"/><polygon points="328.7,479.1 339.4,469.1 343.4,478.0"/>
<path d="M485.2 420.7 L482.9 425.3 L480.4 429.9 L477.9 434.4 L475.4 438.9 L472.9 443.5 L470.5 448.1 L468.2 452.7 L466.1 457.4 L464.2 462.1 L462.6 467.0 L461.2 471.9 L460.1 477.0 L459.1 482.1 L458.3 487.3 L457.7 492.6 L457.1 497.9 L456.7 503.2 L456.3 508.5 L456.0 513.8 L455.7 519.1 L455.4 524.6 L455.3 530.1 L455.3 535.7 L455.4 541.2 L455.5 546.8 L455.7 552.4 L455.9 558.0 L456.0 560.9"/><polygon points="456.3,574.8 451.1,561.0 460.8,560.8"/>
<path d="M493.9 420.7 L494.5 427.0 L495.1 433.2 L495.6 439.4 L496.0 445.6 L496.5 451.8 L497.1 458.1 L497.8 464.4 L498.6 470.9 L499.6 477.5 L500.9 484.3 L502.7 493.4 L504.8 503.1 L507.2 513.2 L509.8 523.6 L512.5 534.0 L515.5 544.3 L518.6 554.2 L521.8 563.6 L525.2 572.3 L528.7 580.0 L531.1 584.7 L533.6 589.1 L536.2 593.1 L538.8 596.9 L541.4 600.5 L544.2 604.0 L547.1 607.4 L550.1 610.9 L553.2 614.5 L556.5 618.2 L560.7 622.8 L565.1 627.4 L569.7 631.9 L574.5 636.5 L579.5 641.1 L584.5 645.7 L589.6 650.3 L594.4 654.7"/><polygon points="604.5,664.1 591.0,658.2 597.7,651.1"/>
<path d="M500.9 420.7 L564.7 560.4"/><polygon points="570.4,573.0 560.2,562.4 569.1,558.4"/>
<path d="M535.7 420.7 L558.5 427.7 L581.9 435.0 L605.6 442.3 L629.4 449.7 L653.1 457.0 L676.3 464.2 L698.9 471.1 L720.5 477.7 L741.0 483.9 L760.0 489.6 L772.1 493.2 L783.7 496.8 L794.8 500.3 L805.5 503.6 L815.8 506.8 L825.9 509.8 L835.7 512.6 L845.4 515.1 L854.9 517.3 L864.3 519.1 L871.7 520.3 L878.8 521.3 L885.7 522.0 L892.4 522.6 L899.0 523.0 L905.7 523.3 L912.4 523.6 L919.3 523.8 L926.4 524.0 L933.9 524.3 L943.7 524.5 L954.1 524.2 L965.0 523.7 L976.1 523.1 L987.4 522.5 L998.5 522.1 L1009.4 522.2 L1019.7 522.7 L1029.4 524.0 L1038.3 526.1 L1044.6 528.3 L1050.8 530.9 L1056.7 533.9 L1062.4 537.1 L1067.9 540.6 L1073.0 544.4 L1077.9 548.3 L1082.4 552.4 L1086.6 556.6 L1090.4 560.9 L1093.5 564.7 L1096.2 568.7 L1098.7 572.8 L1101.0 577.0 L1103.0 581.4 L1104.8 585.8 L1106.4 590.4 L1107.9 595.0 L1109.2 599.7 L1110.4 604.4 L1111.4 609.8 L1112.0 615.3 L1112.4 621.0 L1112.5 626.7 L1112.5 632.6 L1112.4 638.5 L1112.2 644.4 L1112.1 648.1"/><polygon points="1112.0,662.0 1107.2,648.1 1116.9,648.1"/>
<path d="M1013.2 420.7 L991.3 458.4"/><polygon points="984.3,470.4 987.1,456.0 995.5,460.9"/>
<path d="M1063.0 420.7 L1218.6 474.6"/><polygon points="1231.7,479.1 1217.0,479.2 1220.2,470.0"/>
<path d="M1332.6 420.7 L1321.1 423.9 L1309.6 426.9 L1298.0 429.9 L1286.4 432.9 L1274.9 435.9 L1263.4 438.9 L1251.9 442.2 L1240.4 445.5 L1229.1 449.2 L1217.8 453.0 L1206.3 457.4 L1194.5 462.2 L1182.5 467.4 L1170.5 472.8 L1158.7 478.3 L1147.2 483.7 L1136.2 488.9 L1125.8 493.7 L1116.3 498.0 L1107.8 501.7 L1103.6 503.5 L1099.9 505.2 L1096.4 506.8 L1093.2 508.3 L1090.1 509.7 L1087.0 511.0 L1083.9 512.2 L1080.6 513.4 L1077.0 514.6 L1073.0 515.7 L1067.2 517.0 L1060.9 518.3 L1054.3 519.4 L1047.5 520.3 L1040.4 521.2 L1033.2 521.9 L1025.8 522.6 L1018.4 523.2 L1010.9 523.8 L1003.5 524.3 L994.8 524.7 L985.7 524.6 L976.2 524.3 L966.6 523.9 L957.0 523.4 L947.5 523.1 L938.2 523.1 L929.3 523.5 L920.8 524.4 L913.0 526.1 L907.2 527.8 L901.4 529.7 L895.7 531.8 L890.1 534.1 L884.8 536.7 L879.8 539.5 L875.2 542.6 L871.1 546.0 L867.4 549.8 L864.3 553.9 L861.8 558.7 L860.0 564.1 L858.7 570.0 L858.0 576.2 L857.6 582.6 L857.6 589.3 L857.7 596.0 L858.0 602.7 L858.3 609.2 L858.5 615.6 L858.7 621.9 L859.0 628.5 L859.4 635.1 L859.9 641.7 L860.6 648.3 L861.5 654.8 L862.7 661.2 L864.1 667.3 L865.8 673.1 L867.8 678.5 L869.7 682.9 L871.9 687.1 L874.2 691.2 L876.7 695.1 L879.4 698.8 L882.2 702.4 L885.3 705.9 L888.5 709.3 L891.9 712.5 L895.6 715.6 L900.0 718.9 L904.9 721.9 L910.2 724.6 L915.7 727.2 L921.4 729.6 L927.3 732.0 L933.2 734.3 L937.6 736.0"/><polygon points="950.4,741.5 935.7,740.5 939.5,731.5"/>
<path d="M1403.9 420.7 L1410.5 426.6 L1417.0 432.5 L1423.3 438.3 L1429.6 444.2 L1436.0 450.1 L1442.5 456.0 L1449.2 461.9 L1456.2 467.9 L1463.5 473.9 L1471.3 480.0 L1482.2 488.2 L1493.9 496.7 L1506.4 505.5 L1519.3 514.3 L1532.5 523.2 L1545.8 531.9 L1559.1 540.5 L1572.1 548.6 L1584.6 556.4 L1596.6 563.5 L1605.7 568.9 L1614.6 574.2 L1623.2 579.2 L1631.7 584.1 L1640.1 588.7 L1648.5 593.1 L1656.9 597.4 L1665.6 601.4 L1674.4 605.2 L1683.6 608.7 L1693.4 612.1 L1703.5 615.0 L1713.8 617.6 L1724.2 620.0 L1734.7 622.1 L1745.3 624.2 L1755.9 626.2 L1766.6 628.3 L1777.3 630.6 L1787.9 633.1 L1799.0 636.0 L1809.9 639.0 L1820.9 642.2 L1831.8 645.4 L1842.8 648.6 L1854.0 651.8 L1865.3 654.9 L1876.8 657.9 L1888.7 660.6 L1900.8 663.2 L1915.6 665.8 L1930.7 668.2 L1946.3 670.4 L1962.2 672.4 L1978.3 674.3 L1994.6 676.0 L2011.0 677.7 L2027.4 679.4 L2043.8 681.0 L2060.0 682.7 L2076.2 684.4 L2091.9 686.0 L2107.5 687.6 L2123.0 689.0 L2138.7 690.5 L2154.7 691.9 L2171.4 693.4 L2188.9 694.9 L2207.3 696.5 L2227.0 698.2 L2260.1 701.1 L2296.1 704.4 L2334.4 707.8 L2374.7 711.4 L2416.4 715.0 L2459.0 718.6 L2502.2 722.1 L2545.4 725.4 L2588.2 728.5 L2630.1 731.3 L2673.5 733.8 L2717.3 736.0 L2761.3 738.1 L2805.6 739.9 L2850.1 741.6 L2894.6 743.3 L2939.2 744.9 L2983.8 746.5 L3028.3 748.2 L3058.8 749.4"/><polygon points="3072.7,750.0 3058.6,754.3 3059.0,744.6"/>
<path d="M1482.2 416.5 L1509.9 419.6 L1537.6 422.7 L1565.2 425.8 L1592.8 428.9 L1620.4 432.0 L1648.1 435.2 L1675.9 438.3 L1703.8 441.4 L1731.8 444.6 L1760.1 447.8 L1789.7 451.2 L1819.6 454.6 L1849.6 458.1 L1879.7 461.6 L1910.0 465.1 L1940.3 468.6 L1970.6 472.1 L2000.9 475.6 L2031.2 479.1 L2047.6 481.0"/><polygon points="2061.4,482.6 2047.0,485.8 2048.1,476.2"/>
<path d="M2633.4 418.3 L2237.9 479.4"/><polygon points="2224.2,481.5 2237.2,474.6 2238.7,484.2"/>
<path d="M3299.5 420.7 L3302.0 427.0 L3304.6 433.3 L3307.3 439.6 L3309.9 445.9 L3312.6 452.1 L3315.2 458.5 L3317.6 464.8 L3319.9 471.2 L3322.0 477.7 L3323.8 484.3 L3325.5 491.4 L3326.9 498.6 L3328.2 506.1 L3329.3 513.6 L3330.2 521.1 L3331.0 528.6 L3331.7 535.9 L3332.3 543.1 L3332.7 549.9 L3333.1 556.5 L3333.3 561.2 L3333.4 565.8 L3333.5 570.3 L3333.4 574.6 L3333.4 578.9 L3333.2 583.1 L3332.9 587.2 L3332.6 591.4 L3332.2 595.7 L3331.8 600.0 L3331.3 604.5 L3330.7 609.0 L3330.1 613.6 L3329.4 618.1 L3328.6 622.7 L3327.7 627.2 L3326.7 631.8 L3325.5 636.3 L3324.2 640.7 L3322.8 645.2 L3321.1 649.9 L3319.3 654.7 L3317.3 659.6 L3315.3 664.4 L3313.1 669.2 L3310.7 673.9 L3308.0 678.4 L3305.2 682.7 L3302.1 686.7 L3298.7 690.3 L3294.9 693.7 L3290.7 696.7 L3286.2 699.4 L3281.5 701.9 L3276.5 704.2 L3271.4 706.3 L3266.2 708.4 L3261.0 710.4 L3255.7 712.4 L3250.5 714.4 L3244.8 716.5 L3239.0 718.6 L3233.1 720.5 L3227.1 722.3 L3221.0 724.1 L3214.9 725.8 L3208.7 727.5 L3202.6 729.1 L3196.4 730.8 L3190.3 732.5 L3184.2 734.1 L3178.0 735.8 L3171.9 737.4 L3165.7 739.0 L3159.5 740.6 L3153.3 742.1 L3147.1 743.7 L3142.1 745.0"/><polygon points="3128.6,748.4 3140.9,740.3 3143.3,749.7"/>
<path d="M266.1 507.7 L161.7 566.2"/><polygon points="149.6,573.0 159.3,562.0 164.1,570.5"/>
<path d="M283.5 507.7 L279.2 514.9 L275.0 522.1 L271.0 529.4 L266.9 536.6 L262.8 543.9 L258.6 551.1 L254.3 558.3 L249.7 565.6 L245.0 572.8 L240.0 580.0 L234.0 588.0 L227.7 596.0 L221.2 604.0 L214.3 612.0 L207.4 620.0 L200.3 628.0 L193.2 636.0 L186.1 644.0 L181.3 649.4"/><polygon points="172.2,660.0 177.6,646.3 184.9,652.6"/>
<path d="M292.2 507.7 L292.2 725.0"/><polygon points="292.2,738.9 287.3,725.0 297.0,725.0"/>
<path d="M299.1 507.7 L302.5 515.0 L305.7 522.6 L308.9 530.3 L312.0 538.1 L315.1 545.7 L318.4 553.3 L321.9 560.6 L325.5 567.5 L329.5 574.0 L333.9 580.0 L338.0 584.8 L342.2 589.4 L346.5 593.6 L350.9 597.6 L355.6 601.4 L360.5 605.0 L365.6 608.4 L370.9 611.8 L376.6 615.0 L382.6 618.2 L391.2 622.3 L400.5 626.0 L410.3 629.5 L420.7 632.7 L431.5 635.7 L442.5 638.6 L453.7 641.4 L464.9 644.1 L476.0 646.8 L487.0 649.5 L498.4 652.3 L509.9 654.9 L521.6 657.5 L533.4 659.9 L545.2 662.2 L557.1 664.5 L569.0 666.8 L580.9 669.1 L590.9 671.1"/><polygon points="604.5,673.9 589.9,675.9 591.9,666.3"/>
<path d="M307.8 507.7 L315.4 515.0 L323.2 522.6 L331.1 530.3 L339.1 538.1 L346.9 545.8 L354.7 553.3 L362.2 560.6 L369.4 567.5 L376.2 574.0 L382.6 580.0 L386.5 583.7 L389.9 587.3 L393.1 590.7 L396.1 594.0 L399.1 597.1 L402.1 600.2 L405.4 603.1 L408.9 605.9 L412.9 608.6 L417.4 611.3 L425.2 615.1 L433.8 618.6 L443.2 621.9 L453.3 624.9 L463.9 627.7 L475.0 630.3 L486.4 632.8 L498.0 635.0 L509.9 637.1 L521.7 639.1 L537.2 641.3 L553.4 643.1 L570.2 644.5 L587.5 645.6 L605.2 646.5 L623.2 647.2 L641.3 647.8 L659.5 648.4 L677.7 648.9 L695.7 649.5 L714.9 650.2 L734.7 650.7 L754.9 651.1 L775.3 651.4 L795.7 651.6 L815.8 651.8 L835.5 651.9 L854.6 652.1 L872.9 652.2 L890.1 652.3 L902.4 652.3 L914.3 652.2 L925.8 652.0 L937.1 651.8 L948.0 651.6 L958.7 651.5 L969.1 651.5 L979.3 651.6 L989.4 652.0 L999.3 652.6 L1007.2 653.3 L1014.9 654.2 L1022.4 655.2 L1029.7 656.3 L1036.9 657.5 L1044.0 658.8 L1051.1 660.1 L1058.2 661.3 L1058.9 661.4"/><polygon points="1072.6,663.7 1058.1,666.2 1059.7,656.7"/>
<path d="M314.8 507.7 L420.9 568.1"/><polygon points="433.0,575.0 418.5,572.3 423.3,563.9"/>
<path d="M333.9 507.7 L545.4 577.6"/><polygon points="558.6,582.0 543.9,582.2 546.9,573.0"/>
<path d="M1254.3 507.7 L1243.5 514.9 L1232.7 522.1 L1222.0 529.4 L1211.3 536.6 L1200.6 543.8 L1189.8 551.1 L1178.8 558.3 L1167.7 565.5 L1156.4 572.8 L1144.8 580.0 L1131.6 588.0 L1118.0 596.0 L1104.2 604.0 L1090.2 612.0 L1076.0 620.0 L1061.7 628.0 L1047.4 636.0 L1033.1 644.0 L1018.9 652.0 L1016.9 653.1"/><polygon points="1004.8,660.0 1014.5,648.9 1019.3,657.4"/>
<path d="M1266.5 507.7 L1261.3 515.0 L1256.0 522.4 L1250.7 529.9 L1245.4 537.5 L1240.1 545.0 L1234.8 552.4 L1229.6 559.7 L1224.4 566.7 L1219.3 573.5 L1214.3 580.0 L1210.4 585.1 L1206.5 590.0 L1202.8 594.7 L1199.0 599.4 L1195.3 603.9 L1191.6 608.3 L1187.8 612.7 L1184.0 616.9 L1180.1 621.1 L1176.1 625.2 L1172.1 629.0 L1168.1 632.7 L1163.9 636.2 L1159.7 639.7 L1155.5 643.1 L1151.3 646.4 L1147.0 649.8 L1145.2 651.2"/><polygon points="1134.3,660.0 1142.1,647.5 1148.2,655.0"/>
<path d="M1292.6 507.7 L1363.6 566.0"/><polygon points="1374.3,574.8 1360.5,569.7 1366.7,562.2"/>
<path d="M1322.2 507.7 L1334.0 511.3 L1346.1 514.9 L1358.1 518.5 L1370.2 522.1 L1382.3 525.7 L1394.3 529.3 L1406.1 533.0 L1417.7 536.7 L1429.0 540.5 L1440.0 544.4 L1449.4 547.9 L1458.7 551.4 L1467.9 555.1 L1477.0 558.8 L1485.9 562.5 L1494.6 566.2 L1503.1 569.9 L1511.3 573.6 L1519.3 577.3 L1527.0 580.9 L1532.8 583.8 L1538.2 586.7 L1543.4 589.6 L1548.4 592.6 L1553.4 595.5 L1558.3 598.4 L1563.2 601.2 L1568.3 603.8 L1573.6 606.4 L1579.2 608.7 L1585.6 611.2 L1592.3 613.5 L1599.1 615.7 L1606.0 617.7 L1613.1 619.7 L1620.2 621.5 L1627.4 623.2 L1634.5 624.8 L1641.7 626.4 L1648.8 627.9 L1655.8 629.2 L1662.9 630.4 L1670.0 631.5 L1677.2 632.4 L1684.3 633.3 L1691.5 634.1 L1698.7 634.9 L1705.9 635.8 L1713.1 636.7 L1720.3 637.6 L1727.9 638.6 L1735.7 639.4 L1743.6 640.2 L1751.6 641.0 L1759.5 641.9 L1767.3 642.8 L1774.9 643.8 L1782.2 645.0 L1789.1 646.5 L1795.5 648.1 L1800.1 649.6 L1804.4 651.1 L1808.5 652.8 L1812.4 654.6 L1816.2 656.4 L1819.9 658.3 L1823.6 660.2 L1827.2 662.2 L1830.9 664.2 L1834.7 666.2 L1838.3 668.2 L1841.8 670.3 L1845.3 672.6 L1848.7 674.9 L1852.1 677.1 L1855.6 679.4 L1859.1 681.6 L1862.8 683.6 L1866.7 685.5 L1870.8 687.2 L1875.9 689.1 L1881.3 690.6 L1886.8 692.0 L1892.4 693.3 L1898.3 694.4 L1904.3 695.4 L1910.6 696.4 L1917.1 697.3 L1923.9 698.3 L1930.9 699.3 L1941.4 700.7 L1952.1 702.1 L1963.1 703.4 L1974.6 704.6 L1986.6 705.7 L1999.4 706.8 L2012.9 707.9 L2027.5 709.0 L2043.1 710.1 L2060.0 711.3 L2100.9 713.9 L2149.2 716.5 L2203.5 719.2 L2262.3 721.8 L2324.2 724.5 L2387.8 727.1 L2451.6 729.6 L2514.2 732.0 L2574.2 734.3 L2630.1 736.5 L2676.6 738.2 L2722.2 739.8 L2767.0 741.4 L2811.2 742.8 L2854.9 744.2 L2898.3 745.5 L2941.7 746.9 L2985.1 748.2 L3028.7 749.6 L3058.8 750.6"/><polygon points="3072.7,751.0 3058.7,755.4 3059.0,745.7"/>
<path d="M2061.4 494.8 L2028.1 496.2 L1992.9 497.7 L1956.7 499.3 L1920.2 500.9 L1884.2 502.4 L1849.6 503.9 L1817.1 505.3 L1787.4 506.6 L1761.5 507.7 L1740.0 508.7 L1732.7 509.0 L1726.4 509.2 L1720.9 509.4 L1716.0 509.6 L1711.4 509.8 L1706.8 509.9 L1701.9 510.2 L1696.6 510.4 L1690.6 510.8 L1683.6 511.3 L1665.8 512.7 L1644.6 514.5 L1620.8 516.6 L1595.0 519.0 L1567.9 521.6 L1540.4 524.3 L1513.2 527.2 L1486.8 530.0 L1462.2 532.9 L1440.0 535.7 L1424.5 537.6 L1409.1 539.5 L1393.9 541.3 L1379.1 543.1 L1364.8 545.0 L1351.1 547.0 L1338.1 549.2 L1326.0 551.7 L1314.8 554.4 L1304.8 557.4 L1299.5 559.3 L1294.7 561.4 L1290.2 563.5 L1286.1 565.7 L1282.2 568.0 L1278.5 570.4 L1274.8 572.7 L1271.0 575.1 L1267.1 577.6 L1263.0 580.0 L1258.6 582.6 L1254.1 585.2 L1249.6 587.9 L1245.2 590.6 L1240.7 593.4 L1236.2 596.2 L1231.6 599.0 L1227.1 601.9 L1222.5 604.8 L1217.8 607.8 L1212.7 611.1 L1207.3 614.6 L1201.8 618.2 L1196.3 621.8 L1190.8 625.5 L1185.3 629.1 L1180.0 632.7 L1175.0 636.1 L1170.1 639.4 L1165.7 642.6 L1162.7 644.7 L1159.8 646.7 L1157.1 648.7 L1154.5 650.6 L1152.0 652.4 L1150.7 653.4"/><polygon points="1139.6,661.7 1147.8,649.5 1153.6,657.3"/>
<path d="M2061.4 500.0 L2045.2 502.5 L2029.0 505.1 L2012.7 507.7 L1996.5 510.3 L1980.2 512.9 L1964.0 515.5 L1947.9 518.0 L1931.8 520.5 L1915.8 522.9 L1900.0 525.2 L1884.7 527.3 L1868.9 529.2 L1852.9 531.0 L1836.9 532.8 L1821.1 534.5 L1805.8 536.3 L1791.1 538.1 L1777.3 540.0 L1764.5 542.1 L1753.2 544.4 L1747.0 545.7 L1741.1 547.0 L1735.5 548.3 L1730.2 549.6 L1725.1 551.0 L1720.3 552.5 L1715.9 554.1 L1711.7 555.8 L1707.9 557.8 L1704.4 560.0 L1702.1 561.8 L1700.0 563.6 L1697.9 565.5 L1696.1 567.5 L1694.3 569.6 L1692.8 571.8 L1691.5 574.0 L1690.4 576.2 L1689.5 578.5 L1688.8 580.9 L1688.4 583.5 L1688.4 586.3 L1688.6 589.3 L1689.1 592.3 L1689.8 595.4 L1690.6 598.4 L1691.4 601.3 L1692.3 604.1 L1693.2 606.6 L1694.0 608.7 L1694.4 609.9 L1694.8 611.0 L1695.2 612.0 L1695.6 612.9 L1696.0 613.8 L1696.5 614.6 L1697.1 615.5 L1697.7 616.3 L1698.4 617.2 L1699.3 618.1 L1701.0 619.6 L1703.0 621.3 L1705.4 622.9 L1707.9 624.6 L1710.7 626.2 L1713.6 627.8 L1716.6 629.3 L1719.8 630.7 L1723.1 632.0 L1726.4 633.1 L1731.0 634.3 L1736.1 635.1 L1741.6 635.7 L1747.3 636.1 L1753.2 636.4 L1759.1 636.7 L1764.9 637.0 L1770.4 637.5 L1775.7 638.1 L1780.5 639.1 L1784.0 640.0 L1787.4 640.9 L1790.8 641.8 L1794.0 642.8 L1797.2 643.8 L1800.2 645.0 L1803.1 646.3 L1805.8 647.7 L1808.3 649.3 L1810.6 651.1 L1812.6 653.1 L1814.6 655.2 L1816.6 657.5 L1818.4 660.0 L1820.0 662.5 L1821.4 665.1 L1822.6 667.7 L1823.5 670.3 L1824.0 672.8 L1824.1 675.2 L1823.9 677.4 L1823.4 679.7 L1822.6 681.9 L1821.5 684.1 L1820.2 686.3 L1818.6 688.5 L1816.9 690.6 L1814.9 692.6 L1812.8 694.5 L1810.6 696.3 L1806.6 698.9 L1802.1 701.1 L1796.9 703.2 L1791.3 705.0 L1785.3 706.7 L1778.8 708.3 L1772.1 709.8 L1765.1 711.3 L1757.8 712.8 L1750.4 714.3 L1738.2 716.7 L1725.0 719.0 L1710.8 721.1 L1695.8 723.1 L1680.3 725.0 L1664.4 726.8 L1648.2 728.6 L1632.0 730.4 L1615.9 732.1 L1600.0 733.9 L1582.9 735.7 L1565.6 737.5 L1548.1 739.2 L1530.4 740.8 L1512.6 742.4 L1494.7 744.0 L1476.8 745.6 L1459.0 747.2 L1441.1 748.8 L1437.2 749.1"/><polygon points="1423.4,750.4 1436.8,744.3 1437.7,754.0"/>
<path d="M2061.4 503.0 L2045.3 504.9 L2029.4 506.7 L2013.5 508.6 L1997.7 510.4 L1981.8 512.3 L1965.8 514.2 L1949.7 516.1 L1933.4 518.0 L1916.8 520.0 L1900.0 522.0 L1880.9 524.3 L1861.5 526.7 L1841.8 529.1 L1821.9 531.5 L1801.8 534.0 L1781.6 536.5 L1761.3 539.1 L1740.9 541.7 L1720.4 544.3 L1700.0 547.0 L1678.6 549.9 L1657.1 552.8 L1635.4 555.8 L1613.6 558.8 L1591.8 561.9 L1569.9 565.0 L1548.0 568.1 L1526.1 571.2 L1504.2 574.3 L1496.2 575.5"/><polygon points="1482.4,577.4 1495.5,570.7 1496.8,580.3"/>
<path d="M2074.0 507.7 L1853.5 562.9"/><polygon points="1840.0,566.3 1852.3,558.2 1854.7,567.6"/>
<path d="M1843.6 571.0 L2077.8 512.1"/><polygon points="2091.3,508.7 2079.0,516.8 2076.6,507.4"/>
<path d="M2101.7 507.7 L1988.8 568.2"/><polygon points="1976.5,574.8 1986.5,563.9 1991.1,572.5"/>
<path d="M1990.4 574.8 L2108.5 515.0"/><polygon points="2120.9,508.7 2110.7,519.3 2106.3,510.6"/>
<path d="M2136.5 507.7 L2136.1 511.2 L2135.7 514.9 L2135.3 518.5 L2134.8 522.1 L2134.4 525.7 L2134.0 529.3 L2133.6 532.9 L2133.3 536.5 L2133.1 540.0 L2133.0 543.5 L2133.1 546.7 L2133.2 549.9 L2133.4 553.0 L2133.6 556.1 L2133.9 559.3 L2134.1 561.0"/><polygon points="2135.5,574.8 2129.3,561.4 2138.9,560.5"/>
<path d="M2149.7 574.8 L2150.1 571.7 L2150.5 568.5 L2150.8 565.4 L2151.2 562.3 L2151.6 559.2 L2152.0 556.1 L2152.3 553.0 L2152.6 549.8 L2152.8 546.7 L2152.9 543.5 L2152.9 540.1 L2152.8 536.6 L2152.6 533.2 L2152.3 529.7 L2152.0 526.2 L2151.7 522.7 L2151.7 522.5"/><polygon points="2150.4,508.7 2156.5,522.1 2146.8,523.0"/>
<path d="M2167.8 507.7 L2270.6 567.8"/><polygon points="2282.6,574.8 2268.2,572.0 2273.1,563.6"/>
<path d="M2192.2 507.7 L2202.6 510.9 L2212.9 514.1 L2223.2 517.3 L2233.5 520.6 L2243.9 523.8 L2254.2 527.0 L2264.7 530.3 L2275.2 533.5 L2285.8 536.7 L2296.5 540.0 L2308.2 543.5 L2320.0 547.0 L2331.9 550.5 L2343.9 554.0 L2356.0 557.5 L2368.2 561.0 L2380.3 564.5 L2392.5 568.0 L2403.3 571.2"/><polygon points="2416.6,575.0 2401.9,575.8 2404.6,566.5"/>
<path d="M2224.2 503.5 L2242.8 506.3 L2261.4 509.0 L2280.1 511.7 L2298.9 514.3 L2317.5 517.0 L2336.2 519.7 L2354.7 522.6 L2373.2 525.6 L2391.5 528.9 L2409.6 532.4 L2427.0 536.1 L2444.1 540.0 L2461.2 544.1 L2478.1 548.4 L2495.0 552.8 L2511.8 557.3 L2528.6 561.8 L2545.4 566.3 L2562.2 570.7 L2565.6 571.6"/><polygon points="2579.1,575.0 2564.4,576.3 2566.8,566.9"/>
<path d="M2224.2 501.5 L2249.7 504.5 L2275.2 507.5 L2300.7 510.4 L2326.2 513.3 L2351.8 516.3 L2377.3 519.2 L2402.8 522.3 L2428.4 525.5 L2453.9 528.9 L2479.5 532.4 L2505.5 536.2 L2531.5 540.2 L2557.5 544.4 L2583.5 548.6 L2609.6 553.0 L2635.6 557.4 L2661.7 561.9 L2687.7 566.3 L2713.8 570.7 L2726.1 572.8"/><polygon points="2739.8,575.0 2725.3,577.6 2726.9,568.0"/>
<path d="M2224.2 500.0 L2257.0 502.9 L2290.4 505.7 L2324.0 508.5 L2357.7 511.4 L2391.3 514.2 L2424.5 517.1 L2457.1 519.9 L2488.9 522.9 L2519.8 525.9 L2549.4 528.9 L2572.3 531.4 L2594.6 533.9 L2616.2 536.4 L2637.4 539.0 L2658.1 541.6 L2678.6 544.2 L2698.8 546.8 L2718.9 549.5 L2738.9 552.3 L2759.0 555.1 L2777.7 557.8 L2796.1 560.6 L2814.4 563.4 L2832.4 566.3 L2850.4 569.2 L2868.3 572.1 L2886.2 575.0 L2904.1 578.0 L2922.0 580.9 L2926.3 581.6"/><polygon points="2940.0,583.8 2925.5,586.4 2927.1,576.8"/>
<path d="M2224.2 498.5 L2256.7 500.7 L2289.1 502.8 L2321.4 505.0 L2353.7 507.2 L2386.1 509.3 L2418.5 511.5 L2451.0 513.7 L2483.6 515.8 L2516.4 518.0 L2549.4 520.2 L2585.2 522.5 L2623.5 525.0 L2663.1 527.6 L2703.2 530.2 L2742.8 532.7 L2780.9 535.2 L2816.5 537.5 L2848.7 539.6 L2876.4 541.4 L2898.8 542.9 L2905.7 543.3 L2911.7 543.7 L2916.9 544.0 L2921.6 544.3 L2926.0 544.6 L2930.3 544.9 L2934.7 545.2 L2939.2 545.5 L2944.3 545.9 L2950.0 546.4 L2959.7 547.4 L2970.6 548.5 L2982.4 549.8 L2994.7 551.2 L3007.2 552.6 L3019.6 554.1 L3031.5 555.5 L3042.7 556.8 L3052.7 558.0 L3061.3 559.0 L3065.4 559.4 L3069.3 559.8 L3072.9 560.2 L3076.4 560.6 L3079.7 560.9 L3082.8 561.2 L3085.7 561.6 L3088.4 561.9 L3091.0 562.2 L3093.3 562.6 L3094.6 562.8 L3095.7 562.9 L3096.8 563.0 L3097.8 563.1 L3098.7 563.2 L3099.7 563.4 L3100.5 563.5 L3101.4 563.8 L3102.2 564.1 L3103.1 564.5 L3103.9 565.1 L3104.7 565.7 L3105.5 566.3 L3106.2 567.0 L3106.9 567.8 L3107.6 568.7 L3108.2 569.5 L3108.8 570.4 L3109.4 571.4 L3110.0 572.3 L3110.7 573.5 L3111.4 574.8 L3112.0 576.1 L3112.6 577.5 L3113.2 579.0 L3113.7 580.5 L3114.2 582.0 L3114.7 583.6 L3115.2 585.2 L3115.6 586.8 L3116.1 588.8 L3116.7 590.8 L3117.2 592.8 L3117.7 594.9 L3118.1 597.0 L3118.5 599.2 L3118.8 601.5 L3119.0 603.9 L3119.2 606.4 L3119.2 609.1 L3119.0 613.4 L3118.5 618.2 L3117.8 623.3 L3116.8 628.6 L3115.7 634.1 L3114.6 639.7 L3113.4 645.4 L3112.7 648.3"/><polygon points="3110.0,661.9 3108.0,647.4 3117.5,649.3"/>
<path d="M2224.2 498.2 L2256.7 500.4 L2289.1 502.5 L2321.4 504.7 L2353.7 506.8 L2386.1 509.0 L2418.5 511.2 L2451.0 513.3 L2483.6 515.5 L2516.4 517.7 L2549.4 519.8 L2585.2 522.2 L2623.5 524.7 L2663.1 527.2 L2703.2 529.8 L2742.8 532.4 L2780.9 534.8 L2816.5 537.1 L2848.7 539.2 L2876.4 541.0 L2898.8 542.5 L2905.7 543.0 L2911.7 543.4 L2916.9 543.7 L2921.6 544.0 L2926.0 544.3 L2930.3 544.6 L2934.7 544.9 L2939.2 545.2 L2944.3 545.7 L2950.0 546.2 L2959.7 547.1 L2970.6 548.3 L2982.4 549.6 L2994.7 551.0 L3007.2 552.4 L3019.6 553.9 L3031.5 555.3 L3042.7 556.6 L3052.7 557.8 L3061.3 558.7 L3065.3 559.1 L3069.0 559.5 L3072.5 559.9 L3075.7 560.2 L3078.8 560.5 L3081.8 560.8 L3084.7 561.1 L3087.5 561.3 L3090.4 561.6 L3093.3 561.7 L3095.9 561.9 L3098.4 561.9 L3100.9 562.0 L3103.4 562.0 L3105.9 562.0 L3108.2 562.0 L3110.6 562.0 L3112.8 562.0 L3114.9 562.1 L3117.0 562.3 L3118.4 562.4 L3119.8 562.5 L3121.1 562.6 L3122.4 562.7 L3123.7 562.9 L3124.9 563.1 L3126.1 563.3 L3127.3 563.6 L3128.4 564.0 L3129.5 564.5 L3130.6 565.2 L3131.7 565.9 L3132.7 566.8 L3133.7 567.7 L3134.6 568.7 L3135.5 569.8 L3136.5 570.9 L3137.4 572.0 L3138.3 573.1 L3139.3 574.3 L3140.4 575.6 L3141.6 577.1 L3142.8 578.6 L3144.0 580.2 L3145.1 581.8 L3146.3 583.4 L3147.4 585.0 L3148.5 586.6 L3149.5 588.1 L3150.4 589.6 L3151.0 590.7 L3151.7 591.7 L3152.2 592.6 L3152.8 593.6 L3153.3 594.5 L3153.8 595.5 L3154.3 596.5 L3154.7 597.5 L3155.2 598.7 L3155.7 600.0 L3156.5 602.3 L3157.4 604.9 L3158.2 607.6 L3159.1 610.6 L3159.9 613.6 L3160.6 616.8 L3161.3 620.1 L3161.8 623.4 L3162.1 626.8 L3162.3 630.1 L3162.3 634.3 L3162.0 638.6 L3161.5 643.1 L3160.9 647.7 L3160.0 652.4 L3159.1 657.1 L3158.0 661.8 L3156.8 666.4 L3155.5 670.9 L3154.2 675.3 L3152.8 679.4 L3151.3 683.6 L3149.7 687.7 L3147.9 691.8 L3146.1 695.8 L3144.2 699.8 L3142.3 703.6 L3140.2 707.4 L3138.2 711.0 L3136.1 714.4 L3134.3 717.1 L3132.5 719.7 L3130.5 722.2 L3128.6 724.6 L3126.6 727.0 L3125.7 728.0"/><polygon points="3116.6,738.5 3122.0,724.8 3129.3,731.2"/>
<path d="M2993.0 503.5 L3003.7 505.4 L3014.7 507.4 L3025.9 509.5 L3037.1 511.5 L3048.2 513.5 L3059.1 515.5 L3069.6 517.4 L3079.6 519.3 L3089.1 521.0 L3097.7 522.6 L3102.9 523.5 L3107.8 524.3 L3112.3 524.9 L3116.7 525.5 L3120.9 526.1 L3125.1 526.8 L3129.2 527.6 L3133.3 528.5 L3137.6 529.6 L3141.9 531.0 L3147.1 532.7 L3152.4 534.6 L3157.9 536.7 L3163.4 538.9 L3168.8 541.3 L3174.2 543.9 L3179.3 546.7 L3184.2 549.7 L3188.8 553.0 L3192.9 556.5 L3196.5 560.1 L3199.9 564.1 L3203.0 568.5 L3206.0 573.0 L3208.7 577.7 L3211.3 582.4 L3213.5 587.1 L3215.6 591.7 L3217.4 596.0 L3218.9 600.0 L3219.8 602.6 L3220.6 605.1 L3221.2 607.4 L3221.8 609.8 L3222.2 612.1 L3222.5 614.4 L3222.7 616.7 L3222.8 619.0 L3222.9 621.5 L3222.8 624.1 L3222.6 627.4 L3222.2 630.9 L3221.7 634.4 L3221.0 638.0 L3220.2 641.7 L3219.2 645.4 L3218.1 649.2 L3217.0 652.9 L3215.7 656.6 L3214.4 660.2 L3212.8 664.2 L3211.2 668.2 L3209.4 672.3 L3207.4 676.3 L3205.4 680.4 L3203.2 684.4 L3200.9 688.3 L3198.5 692.1 L3196.0 695.8 L3193.3 699.3 L3190.5 702.8 L3187.5 706.1 L3184.3 709.4 L3181.1 712.6 L3177.7 715.7 L3174.2 718.7 L3170.7 721.6 L3167.2 724.3 L3163.7 727.0 L3160.2 729.4 L3157.1 731.5 L3154.0 733.4 L3150.9 735.1 L3147.7 736.8 L3144.5 738.3 L3141.3 739.8 L3141.1 739.9"/><polygon points="3128.6,746.0 3139.0,735.6 3143.2,744.3"/>
<path d="M2893.6 507.3 L2894.2 511.5 L2895.0 515.8 L2895.8 520.0 L2896.6 524.2 L2897.4 528.5 L2898.1 532.7 L2898.7 537.0 L2899.3 541.3 L2899.7 545.6 L2899.9 549.9 L2900.0 554.5 L2900.2 559.2 L2900.3 564.1 L2900.3 569.0 L2900.2 573.8 L2899.9 578.6 L2899.3 583.2 L2898.4 587.6 L2897.1 591.6 L2895.3 595.3 L2893.3 598.4 L2891.1 601.2 L2888.6 603.8 L2885.8 606.3 L2882.7 608.5 L2879.5 610.6 L2875.9 612.6 L2872.1 614.5 L2868.1 616.3 L2863.9 618.0 L2856.2 620.5 L2847.7 622.5 L2838.4 624.1 L2828.4 625.3 L2817.8 626.2 L2806.8 627.0 L2795.2 627.7 L2783.4 628.4 L2771.3 629.2 L2759.0 630.2 L2741.3 631.8 L2722.6 633.4 L2703.2 634.9 L2683.0 636.4 L2662.1 637.8 L2640.6 639.2 L2618.5 640.6 L2595.9 641.9 L2572.9 643.1 L2549.4 644.2 L2517.4 645.6 L2482.7 646.8 L2446.2 648.0 L2408.5 649.1 L2370.5 650.0 L2332.7 650.9 L2296.1 651.7 L2261.3 652.4 L2229.0 653.1 L2200.0 653.7 L2183.5 654.0 L2168.1 654.3 L2153.7 654.5 L2139.9 654.8 L2126.7 654.9 L2113.7 655.1 L2100.7 655.3 L2087.6 655.4 L2074.1 655.6 L2060.0 655.7 L2044.7 655.8 L2029.5 656.0 L2014.4 656.1 L1999.2 656.1 L1983.8 656.2 L1968.1 656.3 L1952.0 656.3 L1935.4 656.4 L1918.1 656.4 L1900.0 656.5 L1873.4 656.6 L1844.5 656.7 L1813.9 656.8 L1782.2 656.8 L1750.0 656.9 L1717.8 657.0 L1686.1 657.0 L1655.5 657.1 L1626.6 657.1 L1600.0 657.2 L1582.0 657.2 L1565.0 657.3 L1548.8 657.3 L1533.1 657.3 L1517.7 657.3 L1502.6 657.3 L1487.4 657.4 L1472.1 657.4 L1456.3 657.4 L1440.0 657.5 L1421.4 657.5 L1402.2 657.5 L1382.5 657.4 L1362.5 657.3 L1342.6 657.2 L1322.8 657.2 L1303.5 657.3 L1284.7 657.5 L1266.8 657.9 L1250.0 658.5 L1238.1 659.1 L1226.7 659.8 L1215.8 660.6 L1205.2 661.4 L1194.9 662.3 L1184.7 663.3 L1174.5 664.2 L1164.4 665.2 L1157.4 665.8"/><polygon points="1143.6,667.0 1157.0,661.0 1157.9,670.7"/>
<path d="M2947.7 603.3 L2925.2 605.7 L2902.6 608.2 L2879.8 610.7 L2857.0 613.2 L2834.2 615.7 L2811.6 618.1 L2789.2 620.5 L2767.1 622.7 L2745.4 624.8 L2724.1 626.8 L2706.0 628.3 L2688.8 629.7 L2672.0 631.0 L2655.6 632.3 L2639.2 633.4 L2622.6 634.5 L2605.6 635.6 L2587.9 636.7 L2569.2 637.8 L2549.4 639.0 L2518.6 640.7 L2484.7 642.5 L2448.5 644.4 L2410.8 646.2 L2372.4 648.0 L2334.2 649.7 L2297.1 651.3 L2261.8 652.7 L2229.1 653.8 L2200.0 654.7 L2183.5 655.1 L2168.1 655.4 L2153.7 655.6 L2139.9 655.8 L2126.7 655.9 L2113.7 655.9 L2100.7 655.9 L2087.6 656.0 L2074.1 656.0 L2060.0 656.0 L2044.7 656.0 L2029.5 656.0 L2014.4 656.0 L1999.2 656.0 L1983.8 656.0 L1968.1 655.9 L1952.0 655.8 L1935.4 655.7 L1918.1 655.6 L1900.0 655.5 L1873.4 655.3 L1844.5 655.1 L1813.9 654.8 L1782.2 654.5 L1750.0 654.2 L1717.8 653.9 L1686.1 653.5 L1655.5 653.2 L1626.6 652.9 L1600.0 652.6 L1581.7 652.4 L1564.0 652.1 L1546.7 651.9 L1529.9 651.6 L1513.6 651.4 L1497.8 651.2 L1482.5 650.9 L1467.8 650.8 L1453.6 650.6 L1440.0 650.5 L1430.9 650.4 L1422.4 650.4 L1414.5 650.4 L1406.9 650.4 L1399.4 650.4 L1392.0 650.4 L1384.3 650.4 L1376.2 650.4 L1367.5 650.5 L1358.0 650.5 L1341.9 650.6 L1324.3 650.6 L1305.3 650.7 L1285.5 650.7 L1265.0 650.8 L1244.4 651.0 L1223.9 651.1 L1204.0 651.4 L1184.9 651.6 L1167.0 652.0 L1153.2 652.4 L1139.8 652.8 L1126.8 653.3 L1114.0 653.8 L1101.5 654.3 L1089.1 654.8 L1076.8 655.4 L1064.6 655.9 L1052.3 656.4 L1040.0 656.8 L1028.4 657.2 L1017.1 657.5 L1006.0 657.7 L995.0 658.0 L983.9 658.3 L972.8 658.5 L961.5 658.8 L949.8 659.2 L937.7 659.5 L925.2 660.0 L908.1 660.7 L889.7 661.5 L870.3 662.3 L850.4 663.2 L830.3 664.2 L810.4 665.2 L791.1 666.2 L772.6 667.2 L755.5 668.2 L740.0 669.3 L730.9 669.9 L722.5 670.6 L714.4 671.2 L706.8 671.9 L699.4 672.6 L692.2 673.3 L685.0 674.0 L677.9 674.6 L676.8 674.7"/><polygon points="663.0,676.0 676.4,669.9 677.3,679.6"/>
<path d="M2966.9 603.3 L2949.9 606.0 L2933.4 608.6 L2917.1 611.2 L2900.9 613.8 L2884.5 616.4 L2867.8 619.1 L2850.6 621.7 L2832.7 624.5 L2813.9 627.3 L2794.0 630.2 L2762.8 634.8 L2729.4 639.7 L2694.0 644.8 L2657.1 650.1 L2619.2 655.4 L2580.5 660.7 L2541.6 665.9 L2502.7 670.9 L2464.5 675.6 L2427.1 679.9 L2390.6 683.7 L2354.4 687.4 L2318.4 690.7 L2282.3 693.9 L2246.2 696.9 L2209.9 699.8 L2173.2 702.7 L2136.1 705.5 L2098.4 708.4 L2060.0 711.3 L2015.1 714.7 L1967.9 718.2 L1919.0 721.7 L1869.4 725.2 L1819.8 728.6 L1770.9 731.9 L1723.8 735.1 L1679.0 738.0 L1637.5 740.6 L1600.0 742.9 L1579.0 744.1 L1559.4 745.2 L1540.9 746.2 L1523.4 747.1 L1506.5 748.0 L1490.1 748.7 L1473.8 749.5 L1457.4 750.3 L1440.7 751.1 L1437.3 751.3"/><polygon points="1423.4,752.0 1437.0,746.4 1437.5,756.2"/>
<path d="M3030.7 603.5 L3078.1 652.0"/><polygon points="3087.8,661.9 3074.6,655.4 3081.5,648.6"/>
<path d="M3021.2 603.6 L3023.6 610.3 L3025.8 617.0 L3028.0 623.7 L3030.2 630.4 L3032.4 637.1 L3034.7 643.8 L3037.1 650.5 L3039.7 657.2 L3042.5 663.8 L3045.6 670.4 L3049.2 677.4 L3053.2 684.4 L3057.4 691.3 L3061.8 698.3 L3066.4 705.2 L3071.1 712.0 L3075.8 718.9 L3080.5 725.8 L3082.0 728.0"/><polygon points="3089.6,739.6 3077.9,730.7 3086.0,725.3"/>
<path d="M128.7 603.6 L144.8 647.9"/><polygon points="149.6,661.0 140.2,649.6 149.4,646.3"/>
<path d="M180.9 690.2 L255.7 731.5"/><polygon points="267.8,738.2 253.3,735.8 258.0,727.2"/>
<path d="M945.6 603.7 L939.6 607.5 L933.3 611.2 L926.9 614.8 L920.4 618.5 L914.0 622.2 L907.8 625.9 L902.0 629.7 L896.7 633.5 L892.0 637.4 L888.1 641.5 L885.8 644.3 L883.7 647.3 L881.6 650.3 L879.8 653.3 L878.3 656.4 L877.0 659.4 L876.0 662.4 L875.3 665.4 L875.0 668.3 L875.2 671.1 L875.8 673.9 L876.8 676.7 L878.2 679.5 L879.9 682.3 L882.0 685.0 L884.3 687.6 L886.8 690.2 L889.6 692.6 L892.5 694.9 L895.6 697.0 L900.4 699.8 L905.8 702.3 L911.7 704.5 L918.2 706.4 L925.0 708.2 L932.1 709.8 L939.5 711.2 L947.0 712.7 L954.6 714.1 L962.2 715.6 L972.0 717.3 L982.0 718.9 L992.3 720.3 L1002.9 721.5 L1013.8 722.7 L1025.0 723.8 L1036.6 724.9 L1048.5 726.0 L1060.7 727.2 L1073.3 728.5 L1091.3 730.4 L1110.3 732.4 L1130.2 734.4 L1150.7 736.5 L1171.8 738.6 L1193.1 740.6 L1214.6 742.8 L1236.1 744.9 L1257.3 746.9 L1264.2 747.6"/><polygon points="1278.0,749.0 1263.7,752.5 1264.6,742.8"/>
<path d="M975.2 603.7 L973.2 648.0"/><polygon points="972.6,661.9 968.4,647.7 978.1,648.2"/>
<path d="M1065.5 603.4 L1078.8 605.5 L1092.3 607.6 L1105.7 609.7 L1119.1 611.8 L1132.5 613.9 L1145.9 616.0 L1159.3 618.2 L1172.6 620.4 L1185.9 622.7 L1199.1 625.0 L1212.2 627.4 L1225.5 629.9 L1239.0 632.5 L1252.5 635.1 L1265.8 637.7 L1278.9 640.3 L1291.6 643.0 L1303.9 645.5 L1315.5 648.1 L1326.5 650.5 L1333.8 652.1 L1341.0 653.7 L1347.9 655.3 L1354.6 656.9 L1361.1 658.4 L1367.4 660.0 L1373.4 661.5 L1379.2 663.1 L1384.8 664.7 L1390.1 666.4 L1393.8 667.6 L1397.2 668.9 L1400.5 670.2 L1403.7 671.6 L1406.8 672.9 L1409.8 674.2 L1412.7 675.5 L1415.8 676.8 L1418.8 678.0 L1422.0 679.1 L1425.1 680.2 L1428.1 681.3 L1431.1 682.3 L1434.1 683.3 L1437.1 684.2 L1440.2 685.2 L1443.4 686.1 L1446.7 687.0 L1450.1 687.8 L1453.8 688.7 L1459.1 689.8 L1464.7 690.9 L1470.5 691.9 L1476.6 692.9 L1482.8 693.9 L1489.3 694.8 L1496.0 695.7 L1502.9 696.5 L1510.1 697.4 L1517.4 698.2 L1528.4 699.4 L1540.2 700.4 L1552.6 701.5 L1565.5 702.4 L1578.8 703.4 L1592.2 704.3 L1605.6 705.1 L1619.0 706.0 L1632.1 706.9 L1644.8 707.8 L1656.0 708.6 L1666.5 709.4 L1676.4 710.2 L1686.1 711.0 L1696.0 711.8 L1706.4 712.6 L1717.7 713.3 L1730.1 714.1 L1744.1 714.9 L1760.0 715.7 L1815.4 718.0 L1886.7 720.5 L1970.5 723.0 L2063.6 725.6 L2162.5 728.2 L2264.1 730.7 L2364.9 733.2 L2461.7 735.6 L2551.2 737.9 L2630.1 740.0 L2680.3 741.3 L2728.1 742.6 L2773.8 743.9 L2817.8 745.1 L2860.7 746.3 L2902.8 747.4 L2944.6 748.5 L2986.5 749.7 L3029.1 750.8 L3058.8 751.6"/><polygon points="3072.7,752.0 3058.7,756.5 3058.9,746.8"/>
<path d="M1344.8 603.6 L1158.1 660.1"/><polygon points="1144.8,664.1 1156.7,655.5 1159.5,664.8"/>
<path d="M1370.9 603.6 L1297.2 653.2"/><polygon points="1285.7,661.0 1294.5,649.2 1299.9,657.3"/>
<path d="M1390.0 603.6 L1358.7 725.8"/><polygon points="1355.2,739.3 1354.0,724.6 1363.4,727.0"/>
<path d="M1419.6 603.6 L1508.4 654.1"/><polygon points="1520.4,661.0 1506.0,658.4 1510.8,649.9"/>
<path d="M1040.4 690.2 L1266.8 736.5"/><polygon points="1280.4,739.3 1265.8,741.2 1267.8,731.7"/>
<path d="M1166.0 689.5 L1145.7 691.4 L1125.4 693.3 L1105.1 695.2 L1084.9 697.0 L1064.7 698.9 L1044.4 700.8 L1024.0 702.7 L1003.5 704.5 L983.0 706.3 L962.2 708.1 L940.7 710.0 L919.5 711.8 L898.5 713.6 L877.5 715.3 L856.2 717.1 L834.5 718.8 L812.2 720.6 L789.2 722.3 L765.2 724.1 L740.0 725.9 L703.1 728.5 L663.8 731.1 L622.7 733.7 L580.0 736.3 L536.3 739.0 L491.8 741.7 L447.1 744.3 L402.6 747.0 L358.5 749.7 L329.4 751.5"/><polygon points="315.5,752.3 329.1,746.6 329.7,756.3"/>
<path d="M1210.9 690.2 L1036.4 739.6"/><polygon points="1023.0,743.4 1035.1,735.0 1037.7,744.3"/>
<path d="M1275.2 690.2 L1323.6 730.4"/><polygon points="1334.3,739.3 1320.5,734.1 1326.8,726.6"/>
<path d="M1354.5 688.7 L1370.6 689.6 L1386.6 690.4 L1402.4 691.3 L1418.1 692.1 L1433.9 692.9 L1449.9 693.8 L1466.2 694.7 L1482.8 695.6 L1499.8 696.6 L1517.4 697.6 L1539.1 698.9 L1560.5 700.3 L1582.0 701.7 L1603.8 703.2 L1626.3 704.7 L1649.9 706.3 L1674.7 707.8 L1701.1 709.4 L1729.4 711.0 L1760.0 712.5 L1826.5 715.6 L1904.2 718.8 L1990.7 722.2 L2083.3 725.6 L2179.6 729.1 L2277.2 732.4 L2373.5 735.6 L2466.1 738.5 L2552.4 741.2 L2630.1 743.4 L2680.3 744.8 L2728.1 746.0 L2773.8 747.1 L2817.8 748.0 L2860.6 748.9 L2902.8 749.7 L2944.6 750.5 L2986.5 751.3 L3029.1 752.1 L3058.8 752.7"/><polygon points="3072.7,753.0 3058.7,757.6 3058.9,747.9"/>
<path d="M1658.7 689.7 L1437.0 737.1"/><polygon points="1423.4,740.0 1436.0,732.3 1438.0,741.8"/>
<path d="M1807.6 688.7 L1832.4 691.9 L1856.4 695.2 L1880.1 698.5 L1903.6 701.9 L1927.4 705.2 L1951.6 708.4 L1976.7 711.6 L2002.9 714.6 L2030.6 717.4 L2060.0 720.0 L2108.0 723.4 L2160.4 726.5 L2216.4 729.1 L2274.9 731.4 L2335.1 733.4 L2396.2 735.3 L2457.1 737.0 L2517.0 738.6 L2575.0 740.1 L2630.1 741.7 L2676.6 743.0 L2722.2 744.2 L2767.0 745.3 L2811.2 746.2 L2854.9 747.1 L2898.3 748.0 L2941.7 748.8 L2985.1 749.7 L3028.7 750.6 L3058.8 751.2"/><polygon points="3072.7,751.5 3058.7,756.1 3058.9,746.3"/>
<path d="M1836.7 102.6 L1827.3 103.7 L1818.4 104.7 L1809.7 105.6 L1801.1 106.5 L1792.4 107.5 L1783.3 108.5 L1773.7 109.7 L1763.4 111.1 L1752.3 112.8 L1740.0 114.8 L1710.1 120.1 L1673.9 127.0 L1633.0 135.2 L1588.9 144.2 L1543.2 153.8 L1497.5 163.8 L1453.2 173.7 L1411.9 183.2 L1375.3 192.1 L1344.8 200.0 L1331.4 203.7 L1319.4 207.1 L1308.6 210.4 L1298.6 213.5 L1289.0 216.6 L1279.7 219.9 L1270.2 223.2 L1260.3 226.9 L1249.7 230.8 L1238.0 235.2 L1219.8 242.1 L1200.1 249.8 L1179.3 258.1 L1157.7 266.8 L1135.7 275.9 L1113.8 285.2 L1092.2 294.7 L1071.3 304.0 L1051.6 313.3 L1033.5 322.2 L1020.0 329.2 L1006.5 336.7 L993.1 344.4 L980.0 352.2 L967.5 359.9 L955.6 367.2 L944.6 374.1 L934.6 380.3 L926.0 385.7 L918.7 390.0 L916.3 391.3 L914.3 392.4 L912.5 393.4 L910.9 394.2 L909.4 395.0 L907.9 395.8 L906.4 396.6 L904.8 397.6 L903.0 398.7 L901.0 400.0 L897.0 402.7 L892.6 405.8 L887.7 409.2 L882.6 412.9 L877.4 416.8 L872.1 420.9 L866.8 425.3 L861.7 429.7 L856.8 434.3 L852.3 439.0 L847.8 444.1 L843.5 449.5 L839.2 455.1 L835.1 460.9 L831.2 466.9 L827.3 473.0 L823.6 479.1 L820.1 485.3 L816.6 491.4 L813.3 497.4 L810.4 503.2 L807.7 509.2 L805.1 515.2 L802.7 521.2 L800.3 527.3 L798.1 533.3 L795.8 539.2 L793.6 545.0 L791.3 550.6 L789.0 555.9 L787.1 560.2 L785.3 564.3 L783.5 568.3 L781.8 572.2 L780.0 576.0 L778.2 579.8 L776.3 583.5 L774.2 587.3 L772.0 591.1 L769.5 594.9 L766.3 599.3 L762.9 603.8 L759.2 608.2 L755.4 612.7 L751.4 617.1 L747.3 621.5 L743.1 625.8 L738.9 630.2 L734.7 634.5 L730.5 638.7 L726.5 643.0 L722.8 647.4 L719.1 651.7 L715.5 656.0 L711.7 660.3 L707.7 664.5 L703.3 668.6 L698.4 672.6 L692.9 676.4 L686.7 680.1 L672.9 686.6 L656.4 692.7 L637.7 698.4 L617.2 703.7 L595.6 708.6 L573.3 713.3 L550.7 717.7 L528.5 721.8 L507.1 725.8 L487.0 729.5 L469.4 732.7 L451.9 735.5 L434.7 737.9 L417.6 740.2 L400.5 742.3 L383.5 744.2 L366.6 746.1 L349.6 748.1 L332.6 750.1 L329.3 750.5"/><polygon points="315.5,752.3 328.7,745.7 329.9,755.4"/>
</g>
<g>
<rect x="1158.3" y="5.9" width="198.7" height="27.8" fill="#bfbfbf" stroke="#000"/><rect x="1090.2" y="83.5" width="129.7" height="27.8" fill="#fff" stroke="#000"/><rect x="1836.7" y="83.5" width="100.5" height="27.8" fill="#fff" stroke="#000"/><rect x="3006.3" y="83.5" width="62.9" height="27.8" fill="#fff" stroke="#bfbfbf"/><rect x="824.2" y="160.7" width="83.2" height="28.2" fill="#fff" stroke="#000"/><rect x="1839.5" y="160.7" width="94.9" height="28.2" fill="#fff" stroke="#bfbfbf"/><rect x="2540.3" y="160.7" width="165.4" height="28.2" fill="#fff" stroke="#ff0000"/><rect x="745.3" y="237.7" width="198.1" height="27.8" fill="#fff" stroke="#ff0000"/><rect x="2706.4" y="237.7" width="179.2" height="27.8" fill="#fff" stroke="#000"/><rect x="449.0" y="315.2" width="174.7" height="27.8" fill="#fff" stroke="#000"/><rect x="2899.5" y="315.2" width="186.1" height="27.8" fill="#fff" stroke="#000"/><rect x="139.5" y="392.9" width="57.7" height="27.6" fill="#fff" stroke="#bfbfbf"/><rect x="220.5" y="392.9" width="66.5" height="27.6" fill="#fff" stroke="#bfbfbf"/><rect x="311.0" y="392.9" width="68.8" height="27.6" fill="#fff" stroke="#bfbfbf"/><rect x="403.5" y="392.9" width="182.9" height="27.6" fill="#fff" stroke="#000"/><rect x="927.4" y="392.9" width="188.2" height="27.6" fill="#fff" stroke="#000"/><rect x="1294.0" y="392.9" width="188.2" height="27.6" fill="#fff" stroke="#000"/><rect x="2633.4" y="392.9" width="155.1" height="27.6" fill="#fff" stroke="#000"/><rect x="2913.4" y="392.9" width="229.9" height="27.6" fill="#fff" stroke="#ff0000"/><rect x="3216.7" y="392.9" width="156.5" height="27.6" fill="#fff" stroke="#ff0000"/><rect x="188.9" y="479.8" width="206.6" height="27.4" fill="#fff" stroke="#000"/><rect x="874.2" y="470.9" width="190.9" height="45.2" fill="#fff" stroke="#ff0000"/><rect x="1189.0" y="479.8" width="174.6" height="27.4" fill="#fff" stroke="#000"/><rect x="2061.4" y="479.8" width="162.8" height="27.4" fill="#fff" stroke="#000"/><rect x="2786.1" y="479.8" width="206.9" height="27.4" fill="#fff" stroke="#000"/><rect x="41.0" y="575.4" width="163.9" height="27.9" fill="#fff" stroke="#ff0000"/><rect x="431.0" y="575.4" width="53.2" height="27.9" fill="#fff" stroke="#bfbfbf"/><rect x="558.6" y="575.4" width="38.3" height="27.9" fill="#fff" stroke="#bfbfbf"/><rect x="873.5" y="575.4" width="205.5" height="27.9" fill="#fff" stroke="#000"/><rect x="1304.8" y="575.4" width="177.4" height="27.9" fill="#fff" stroke="#000"/><rect x="1708.3" y="566.7" width="136.0" height="45.2" fill="#fff" stroke="#000"/><rect x="1867.7" y="575.4" width="174.9" height="27.9" fill="#fff" stroke="#000"/><rect x="2065.2" y="575.4" width="155.5" height="27.9" fill="#fff" stroke="#000"/><rect x="2243.7" y="575.4" width="126.6" height="27.9" fill="#fff" stroke="#bfbfbf"/><rect x="2392.9" y="575.4" width="140.5" height="27.9" fill="#fff" stroke="#bfbfbf"/><rect x="2555.7" y="575.4" width="129.5" height="27.9" fill="#fff" stroke="#bfbfbf"/><rect x="2707.5" y="575.4" width="158.9" height="27.9" fill="#fff" stroke="#bfbfbf"/><rect x="2939.5" y="575.4" width="153.4" height="27.9" fill="#fff" stroke="#ff0000"/><rect x="89.7" y="662.0" width="133.3" height="27.9" fill="#fff" stroke="#ff0000"/><rect x="604.5" y="662.0" width="58.5" height="27.9" fill="#fff" stroke="#bfbfbf"/><rect x="894.3" y="662.0" width="155.9" height="27.9" fill="#fff" stroke="#000"/><rect x="1073.5" y="662.0" width="69.5" height="27.9" fill="#fff" stroke="#bfbfbf"/><rect x="1166.0" y="662.0" width="188.2" height="27.9" fill="#fff" stroke="#000"/><rect x="1478.7" y="662.0" width="144.3" height="27.9" fill="#fff" stroke="#bfbfbf"/><rect x="1646.3" y="662.0" width="161.5" height="27.9" fill="#fff" stroke="#000"/><rect x="3068.9" y="662.0" width="68.1" height="27.9" fill="#fff" stroke="#bfbfbf"/><rect x="268.9" y="739.6" width="46.6" height="27.6" fill="#fff" stroke="#bfbfbf"/><rect x="950.7" y="739.6" width="72.3" height="27.6" fill="#fff" stroke="#bfbfbf"/><rect x="1278.0" y="739.6" width="145.4" height="27.6" fill="#fff" stroke="#000"/><rect x="3072.7" y="739.6" width="55.0" height="27.6" fill="#fff" stroke="#bfbfbf"/></g>
<g class="t">
<text x="1257.7" y="23.4" textLength="177.1" lengthAdjust="spacingAndGlyphs">RootHistCnv/src/PersSvc.cpp</text>
<text x="1155.1" y="101.0" textLength="108.1" lengthAdjust="spacingAndGlyphs">RootObjAddress.h</text>
<text x="1887.0" y="101.0" textLength="78.9" lengthAdjust="spacingAndGlyphs">RConverter.h</text>
<text x="3037.8" y="101.0" textLength="41.3" lengthAdjust="spacingAndGlyphs">TFile.h</text>
<text x="865.8" y="178.4" textLength="61.6" lengthAdjust="spacingAndGlyphs">PersSvc.h</text>
<text x="1887.0" y="178.4" textLength="73.3" lengthAdjust="spacingAndGlyphs">TDirectory.h</text>
<text x="2623.0" y="178.4" textLength="143.8" lengthAdjust="spacingAndGlyphs">GaudiKernel/Converter.h</text>
<text x="844.3" y="255.2" textLength="176.5" lengthAdjust="spacingAndGlyphs">GaudiKernel/ConversionSvc.h</text>
<text x="2796.0" y="255.2" textLength="157.6" lengthAdjust="spacingAndGlyphs">GaudiKernel/ISvcLocator.h</text>
<text x="536.4" y="332.7" textLength="153.1" lengthAdjust="spacingAndGlyphs">GaudiKernel/MsgStream.h</text>
<text x="2992.6" y="332.7" textLength="164.5" lengthAdjust="spacingAndGlyphs">GaudiKernel/ISvcManager.h</text>
<text x="168.3" y="410.3" textLength="36.1" lengthAdjust="spacingAndGlyphs">cstdio</text>
<text x="253.8" y="410.3" textLength="44.9" lengthAdjust="spacingAndGlyphs">iomanip</text>
<text x="345.4" y="410.3" textLength="47.2" lengthAdjust="spacingAndGlyphs">sstream</text>
<text x="494.9" y="410.3" textLength="161.3" lengthAdjust="spacingAndGlyphs">GaudiKernel/SerializeSTL.h</text>
<text x="1021.5" y="410.3" textLength="166.6" lengthAdjust="spacingAndGlyphs">GaudiKernel/SmartDataPtr.h</text>
<text x="1388.1" y="410.3" textLength="166.6" lengthAdjust="spacingAndGlyphs">GaudiKernel/IMessageSvc.h</text>
<text x="2710.9" y="410.3" textLength="133.5" lengthAdjust="spacingAndGlyphs">GaudiKernel/SmartIF.h</text>
<text x="3028.4" y="410.3" textLength="208.3" lengthAdjust="spacingAndGlyphs">GaudiKernel/IComponentManager.h</text>
<text x="3294.9" y="410.3" textLength="134.9" lengthAdjust="spacingAndGlyphs">GaudiKernel/IService.h</text>
<text x="292.2" y="497.1" textLength="185.0" lengthAdjust="spacingAndGlyphs">GaudiKernel/SerializeSTLFwd.h</text>
<text x="969.6" y="487.9" textLength="169.3" lengthAdjust="spacingAndGlyphs">GaudiKernel/SmartDataStore</text><text x="969.6" y="504.5">Ptr.h</text>
<text x="1276.3" y="497.1" textLength="153.0" lengthAdjust="spacingAndGlyphs">GaudiKernel/DataObject.h</text>
<text x="2142.8" y="497.1" textLength="141.2" lengthAdjust="spacingAndGlyphs">GaudiKernel/IInterface.h</text>
<text x="2889.6" y="497.1" textLength="185.3" lengthAdjust="spacingAndGlyphs">GaudiKernel/TypeNameString.h</text>
<text x="123.0" y="592.9" textLength="142.3" lengthAdjust="spacingAndGlyphs">GaudiKernel/HashMap.h</text>
<text x="457.6" y="592.9" textLength="31.6" lengthAdjust="spacingAndGlyphs">utility</text>
<text x="577.8" y="592.9" textLength="16.7" lengthAdjust="spacingAndGlyphs">list</text>
<text x="976.2" y="592.9" textLength="183.9" lengthAdjust="spacingAndGlyphs">GaudiKernel/IOpaqueAddress.h</text>
<text x="1393.5" y="592.9" textLength="155.8" lengthAdjust="spacingAndGlyphs">GaudiKernel/StatusCode.h</text>
<text x="1776.3" y="583.8" textLength="114.4" lengthAdjust="spacingAndGlyphs">GaudiKernel/extend</text><text x="1776.3" y="600.3">_interfaces.h</text>
<text x="1955.2" y="592.9" textLength="153.3" lengthAdjust="spacingAndGlyphs">GaudiKernel/implements.h</text>
<text x="2142.9" y="592.9" textLength="133.9" lengthAdjust="spacingAndGlyphs">GaudiKernel/extends.h</text>
<text x="2307.0" y="592.9" textLength="105.0" lengthAdjust="spacingAndGlyphs">boost/mpl/set.hpp</text>
<text x="2463.2" y="592.9" textLength="118.9" lengthAdjust="spacingAndGlyphs">boost/mpl/insert.hpp</text>
<text x="2620.4" y="592.9" textLength="107.9" lengthAdjust="spacingAndGlyphs">boost/mpl/fold.hpp</text>
<text x="2786.9" y="592.9" textLength="137.3" lengthAdjust="spacingAndGlyphs">boost/mpl/for_each.hpp</text>
<text x="3016.2" y="592.9" textLength="131.8" lengthAdjust="spacingAndGlyphs">GaudiKernel/System.h</text>
<text x="156.3" y="679.6" textLength="111.7" lengthAdjust="spacingAndGlyphs">GaudiKernel/Map.h</text>
<text x="633.8" y="679.6" textLength="36.9" lengthAdjust="spacingAndGlyphs">vector</text>
<text x="972.2" y="679.6" textLength="134.3" lengthAdjust="spacingAndGlyphs">GaudiKernel/ClassID.h</text>
<text x="1108.2" y="679.6" textLength="47.9" lengthAdjust="spacingAndGlyphs">ostream</text>
<text x="1260.1" y="679.6" textLength="166.6" lengthAdjust="spacingAndGlyphs">GaudiKernel/IssueSeverity.h</text>
<text x="1550.8" y="679.6" textLength="122.7" lengthAdjust="spacingAndGlyphs">boost/shared_ptr.hpp</text>
<text x="1727.0" y="679.6" textLength="139.9" lengthAdjust="spacingAndGlyphs">GaudiKernel/IRegistry.h</text>
<text x="3102.9" y="679.6" textLength="46.5" lengthAdjust="spacingAndGlyphs">typeinfo</text>
<text x="292.2" y="757.0" textLength="25.0" lengthAdjust="spacingAndGlyphs">map</text>
<text x="986.9" y="757.0" textLength="50.7" lengthAdjust="spacingAndGlyphs">iostream</text>
<text x="1350.7" y="757.0" textLength="123.8" lengthAdjust="spacingAndGlyphs">GaudiKernel/Kernel.h</text>
<text x="3100.2" y="757.0" textLength="33.4" lengthAdjust="spacingAndGlyphs">string</text>
</g>
</svg>
</body></html>
